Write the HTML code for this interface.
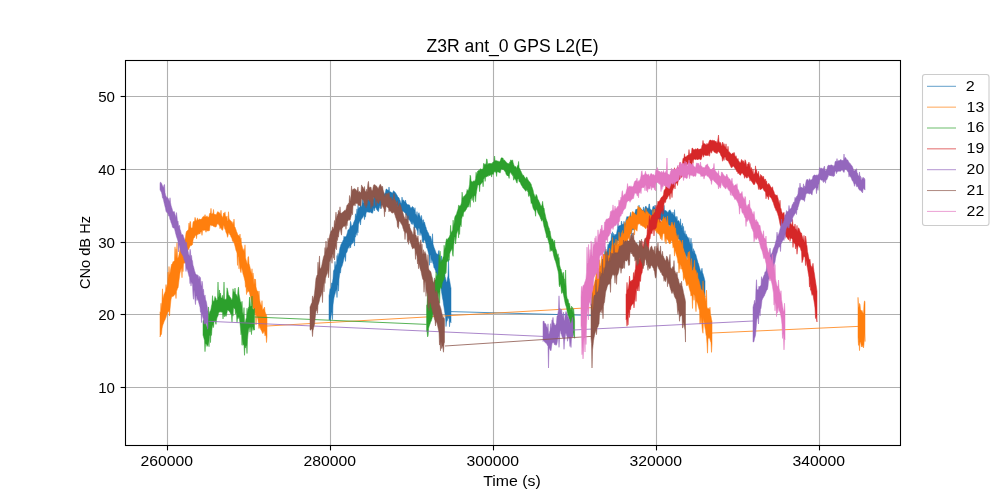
<!DOCTYPE html>
<html><head><meta charset="utf-8"><style>
html,body{margin:0;padding:0;background:#fff;}
svg{display:block;will-change:transform;}
text{font-family:"Liberation Sans",sans-serif;fill:#000;}

.t{font-size:13.9px;}
.g{stroke:#b0b0b0;stroke-width:1.1;}
.k{stroke:#000;stroke-width:1.1;}
</style></head><body>
<svg width="1000" height="500" viewBox="0 0 1000 500">
<rect width="1000" height="500" fill="#fff"/>
<defs><clipPath id="ax"><rect x="125.5" y="60.5" width="775.0" height="385.0"/></clipPath></defs>
<line x1="167.5" y1="60.5" x2="167.5" y2="445.5" class="g"/>
<line x1="330.5" y1="60.5" x2="330.5" y2="445.5" class="g"/>
<line x1="493.5" y1="60.5" x2="493.5" y2="445.5" class="g"/>
<line x1="656.5" y1="60.5" x2="656.5" y2="445.5" class="g"/>
<line x1="819.5" y1="60.5" x2="819.5" y2="445.5" class="g"/>
<line x1="125.5" y1="96.5" x2="900.5" y2="96.5" class="g"/>
<line x1="125.5" y1="169.5" x2="900.5" y2="169.5" class="g"/>
<line x1="125.5" y1="242.5" x2="900.5" y2="242.5" class="g"/>
<line x1="125.5" y1="314.5" x2="900.5" y2="314.5" class="g"/>
<line x1="125.5" y1="387.5" x2="900.5" y2="387.5" class="g"/>
<g clip-path="url(#ax)">
<path d="M329.00,295.68 L329.50,293.13 L330.00,288.79 L330.50,289.52 L331.00,287.87 L331.50,283.10 L332.00,283.56 L332.50,282.10 L333.00,278.40 L333.50,270.92 L334.00,269.95 L334.50,268.81 L335.00,261.38 L335.50,266.63 L336.00,264.92 L336.50,263.72 L337.00,255.49 L337.50,260.18 L338.00,253.36 L338.50,257.54 L339.00,254.17 L339.50,250.39 L340.00,247.66 L340.50,246.22 L341.00,244.42 L341.50,243.80 L342.00,242.50 L342.50,241.89 L343.00,240.44 L343.50,239.63 L344.00,236.20 L344.50,237.20 L345.00,236.90 L345.50,236.70 L346.00,236.60 L346.50,235.57 L347.00,234.02 L347.50,232.14 L348.00,230.12 L348.50,229.62 L349.00,229.99 L349.50,228.37 L350.00,227.10 L350.50,221.32 L351.00,223.11 L351.50,226.96 L352.00,225.48 L352.50,225.61 L353.00,224.76 L353.50,222.98 L354.00,221.71 L354.50,220.55 L355.00,219.43 L355.50,213.77 L356.00,216.73 L356.50,214.03 L357.00,208.87 L357.50,213.69 L358.00,205.29 L358.50,209.14 L359.00,207.44 L359.50,207.77 L360.00,206.73 L360.50,202.00 L361.00,206.97 L361.50,206.16 L362.00,205.09 L362.50,198.52 L363.00,203.35 L363.50,202.78 L364.00,198.05 L364.50,202.91 L365.00,202.50 L365.50,203.00 L366.00,202.37 L366.50,201.46 L367.00,200.06 L367.50,199.76 L368.00,196.14 L368.50,199.98 L369.00,199.95 L369.50,200.74 L370.00,200.15 L370.50,200.70 L371.00,200.79 L371.50,201.38 L372.00,202.03 L372.50,201.57 L373.00,199.81 L373.50,198.32 L374.00,196.33 L374.50,195.58 L375.00,196.23 L375.50,196.69 L376.00,197.26 L376.50,198.25 L377.00,198.02 L377.50,195.41 L378.00,200.20 L378.50,200.09 L379.00,197.53 L379.50,194.93 L380.00,193.03 L380.50,187.09 L381.00,193.18 L381.50,193.20 L382.00,187.92 L382.50,192.89 L383.00,192.61 L383.50,193.01 L384.00,193.13 L384.50,194.15 L385.00,193.56 L385.50,191.93 L386.00,189.22 L386.50,189.12 L387.00,189.20 L387.50,190.37 L388.00,190.02 L388.50,191.09 L389.00,186.97 L389.50,190.90 L390.00,191.78 L390.50,192.06 L391.00,192.11 L391.50,192.52 L392.00,193.18 L392.50,193.01 L393.00,192.12 L393.50,190.77 L394.00,191.11 L394.50,191.89 L395.00,192.04 L395.50,193.06 L396.00,193.56 L396.50,194.41 L397.00,195.06 L397.50,196.58 L398.00,196.75 L398.50,197.48 L399.00,197.79 L399.50,199.45 L400.00,200.30 L400.50,202.02 L401.00,203.19 L401.50,203.30 L402.00,197.06 L402.50,200.62 L403.00,199.92 L403.50,200.26 L404.00,200.43 L404.50,201.67 L405.00,201.88 L405.50,200.03 L406.00,202.53 L406.50,203.59 L407.00,203.99 L407.50,204.84 L408.00,204.66 L408.50,204.63 L409.00,204.80 L409.50,204.99 L410.00,206.61 L410.50,207.40 L411.00,208.51 L411.50,207.81 L412.00,206.82 L412.50,206.53 L413.00,207.55 L413.50,207.54 L414.00,209.23 L414.50,210.35 L415.00,207.73 L415.50,213.44 L416.00,214.57 L416.50,216.08 L417.00,211.61 L417.50,217.53 L418.00,215.16 L418.50,213.62 L419.00,212.66 L419.50,214.74 L420.00,216.05 L420.50,217.44 L421.00,219.22 L421.50,215.40 L422.00,219.40 L422.50,220.20 L423.00,224.09 L423.50,219.60 L424.00,223.26 L424.50,222.11 L425.00,224.26 L425.50,226.23 L426.00,227.18 L426.50,229.46 L427.00,230.24 L427.50,231.92 L428.00,232.24 L428.50,233.34 L429.00,234.93 L429.50,236.22 L430.00,235.97 L430.50,236.29 L431.00,238.09 L431.50,239.96 L432.00,241.94 L432.50,233.78 L433.00,243.88 L433.50,245.60 L434.00,247.46 L434.50,248.54 L435.00,249.93 L435.50,251.16 L436.00,252.72 L436.50,253.78 L437.00,254.07 L437.50,254.09 L438.00,255.22 L438.50,251.22 L439.00,250.38 L439.50,256.01 L440.00,261.17 L440.50,262.43 L441.00,256.13 L441.50,255.99 L442.00,268.03 L442.50,269.12 L443.00,270.88 L443.50,273.03 L444.00,273.81 L444.50,269.81 L445.00,276.33 L445.50,278.01 L446.00,280.24 L446.50,282.36 L447.00,281.76 L447.50,278.07 L448.00,276.05 L448.50,258.83 L449.00,277.67 L449.50,279.96 L450.00,282.73 L450.50,285.96 L451.00,288.15 L451.00,322.79 L450.50,321.89 L450.00,320.95 L449.50,326.76 L449.00,316.70 L448.50,318.55 L448.00,316.39 L447.50,319.68 L447.00,321.42 L446.50,321.87 L446.00,326.58 L445.50,316.23 L445.00,313.83 L444.50,310.74 L444.00,307.09 L443.50,304.01 L443.00,300.27 L442.50,298.03 L442.00,294.82 L441.50,291.73 L441.00,288.17 L440.50,286.47 L440.00,283.85 L439.50,282.74 L439.00,280.33 L438.50,278.30 L438.00,276.39 L437.50,282.88 L437.00,273.52 L436.50,273.11 L436.00,272.75 L435.50,270.58 L435.00,269.41 L434.50,267.71 L434.00,267.96 L433.50,264.81 L433.00,263.47 L432.50,261.78 L432.00,260.22 L431.50,258.48 L431.00,263.03 L430.50,255.34 L430.00,255.28 L429.50,265.29 L429.00,254.90 L428.50,253.40 L428.00,251.19 L427.50,249.29 L427.00,247.88 L426.50,247.81 L426.00,244.15 L425.50,242.40 L425.00,240.83 L424.50,240.14 L424.00,239.62 L423.50,242.85 L423.00,239.78 L422.50,241.94 L422.00,236.39 L421.50,234.41 L421.00,233.19 L420.50,231.96 L420.00,235.52 L419.50,229.61 L419.00,228.31 L418.50,228.29 L418.00,235.12 L417.50,231.36 L417.00,230.00 L416.50,228.68 L416.00,228.31 L415.50,227.36 L415.00,227.39 L414.50,230.39 L414.00,225.34 L413.50,223.69 L413.00,222.29 L412.50,224.44 L412.00,221.26 L411.50,224.23 L411.00,222.63 L410.50,221.80 L410.00,221.04 L409.50,219.77 L409.00,219.94 L408.50,219.28 L408.00,217.91 L407.50,220.76 L407.00,216.57 L406.50,215.21 L406.00,214.69 L405.50,213.38 L405.00,213.02 L404.50,212.51 L404.00,211.72 L403.50,211.25 L403.00,211.65 L402.50,210.73 L402.00,211.80 L401.50,212.88 L401.00,214.00 L400.50,214.26 L400.00,211.42 L399.50,210.61 L399.00,209.16 L398.50,207.67 L398.00,206.97 L397.50,205.77 L397.00,205.24 L396.50,202.93 L396.00,202.14 L395.50,200.97 L395.00,200.90 L394.50,200.04 L394.00,198.97 L393.50,198.80 L393.00,200.52 L392.50,201.96 L392.00,201.31 L391.50,200.63 L391.00,201.18 L390.50,200.58 L390.00,200.48 L389.50,200.39 L389.00,199.60 L388.50,199.38 L388.00,199.43 L387.50,199.33 L387.00,199.36 L386.50,199.94 L386.00,200.03 L385.50,200.85 L385.00,202.85 L384.50,203.83 L384.00,206.44 L383.50,204.01 L383.00,204.49 L382.50,204.73 L382.00,204.97 L381.50,205.28 L381.00,205.16 L380.50,208.79 L380.00,205.26 L379.50,207.40 L379.00,208.71 L378.50,211.41 L378.00,211.39 L377.50,210.70 L377.00,209.83 L376.50,209.38 L376.00,207.73 L375.50,207.45 L375.00,207.78 L374.50,210.93 L374.00,207.86 L373.50,209.30 L373.00,211.51 L372.50,213.28 L372.00,213.09 L371.50,212.85 L371.00,212.93 L370.50,211.73 L370.00,212.09 L369.50,212.17 L369.00,212.52 L368.50,211.93 L368.00,212.20 L367.50,212.10 L367.00,211.50 L366.50,212.25 L366.00,213.61 L365.50,217.15 L365.00,215.21 L364.50,219.63 L364.00,215.56 L363.50,215.73 L363.00,216.96 L362.50,217.74 L362.00,218.44 L361.50,219.07 L361.00,219.95 L360.50,225.05 L360.00,220.92 L359.50,221.44 L359.00,223.00 L358.50,224.39 L358.00,232.85 L357.50,229.51 L357.00,235.41 L356.50,232.62 L356.00,233.56 L355.50,237.18 L355.00,236.27 L354.50,246.08 L354.00,240.01 L353.50,241.81 L353.00,242.95 L352.50,243.17 L352.00,243.15 L351.50,244.15 L351.00,245.21 L350.50,247.96 L350.00,246.22 L349.50,245.86 L349.00,248.42 L348.50,246.63 L348.00,248.15 L347.50,250.08 L347.00,251.98 L346.50,252.86 L346.00,253.01 L345.50,261.42 L345.00,257.27 L344.50,256.42 L344.00,258.36 L343.50,260.52 L343.00,262.68 L342.50,264.57 L342.00,266.15 L341.50,267.02 L341.00,268.45 L340.50,273.09 L340.00,272.37 L339.50,275.42 L339.00,279.13 L338.50,291.13 L338.00,284.58 L337.50,286.01 L337.00,297.53 L336.50,288.94 L336.00,290.61 L335.50,292.09 L335.00,294.07 L334.50,295.61 L334.00,297.67 L333.50,301.03 L333.00,304.93 L332.50,319.58 L332.00,311.67 L331.50,313.81 L331.00,316.49 L330.50,320.42 L330.00,319.01 L329.50,320.02 L329.00,319.93Z" fill="#1f77b4" stroke="#1f77b4" stroke-width="0.5" stroke-linejoin="round"/>
<path d="M597.00,290.03 L597.50,287.49 L598.00,283.99 L598.50,281.08 L599.00,277.61 L599.50,276.12 L600.00,273.64 L600.50,265.87 L601.00,269.66 L601.50,267.48 L602.00,264.80 L602.50,261.46 L603.00,258.79 L603.50,256.54 L604.00,254.79 L604.50,253.89 L605.00,246.65 L605.50,252.51 L606.00,252.30 L606.50,252.85 L607.00,251.34 L607.50,248.96 L608.00,244.15 L608.50,245.99 L609.00,243.61 L609.50,242.21 L610.00,241.38 L610.50,240.83 L611.00,240.87 L611.50,233.41 L612.00,238.77 L612.50,231.80 L613.00,236.53 L613.50,233.38 L614.00,235.88 L614.50,235.60 L615.00,234.04 L615.50,235.13 L616.00,234.56 L616.50,233.63 L617.00,231.08 L617.50,228.61 L618.00,223.32 L618.50,227.19 L619.00,226.08 L619.50,225.76 L620.00,225.51 L620.50,225.00 L621.00,225.51 L621.50,221.06 L622.00,223.62 L622.50,224.51 L623.00,224.26 L623.50,224.28 L624.00,221.22 L624.50,223.97 L625.00,224.06 L625.50,222.57 L626.00,219.95 L626.50,218.05 L627.00,216.49 L627.50,217.11 L628.00,216.55 L628.50,216.83 L629.00,217.57 L629.50,217.76 L630.00,217.12 L630.50,212.37 L631.00,216.68 L631.50,217.10 L632.00,216.95 L632.50,216.75 L633.00,216.45 L633.50,216.88 L634.00,216.62 L634.50,213.18 L635.00,212.61 L635.50,210.32 L636.00,209.06 L636.50,209.40 L637.00,209.18 L637.50,208.80 L638.00,209.16 L638.50,208.63 L639.00,205.14 L639.50,208.17 L640.00,208.31 L640.50,208.36 L641.00,208.90 L641.50,209.44 L642.00,209.68 L642.50,210.55 L643.00,209.81 L643.50,206.87 L644.00,211.18 L644.50,209.98 L645.00,207.61 L645.50,206.52 L646.00,205.96 L646.50,207.67 L647.00,207.47 L647.50,208.40 L648.00,208.15 L648.50,208.23 L649.00,204.01 L649.50,204.02 L650.00,209.08 L650.50,209.14 L651.00,209.73 L651.50,210.32 L652.00,210.22 L652.50,208.38 L653.00,206.58 L653.50,205.92 L654.00,207.18 L654.50,208.19 L655.00,205.08 L655.50,209.22 L656.00,209.11 L656.50,209.76 L657.00,207.09 L657.50,211.88 L658.00,212.26 L658.50,212.08 L659.00,208.95 L659.50,203.90 L660.00,208.01 L660.50,207.51 L661.00,208.76 L661.50,209.30 L662.00,209.64 L662.50,208.73 L663.00,208.62 L663.50,209.61 L664.00,205.30 L664.50,210.62 L665.00,210.18 L665.50,210.60 L666.00,210.73 L666.50,210.95 L667.00,211.94 L667.50,212.18 L668.00,212.24 L668.50,211.91 L669.00,210.26 L669.50,210.41 L670.00,209.70 L670.50,211.36 L671.00,211.51 L671.50,212.87 L672.00,213.63 L672.50,214.03 L673.00,212.07 L673.50,215.28 L674.00,215.08 L674.50,209.65 L675.00,216.94 L675.50,217.84 L676.00,216.20 L676.50,219.85 L677.00,216.54 L677.50,221.31 L678.00,221.06 L678.50,220.47 L679.00,221.08 L679.50,222.78 L680.00,224.05 L680.50,218.81 L681.00,226.55 L681.50,225.42 L682.00,228.62 L682.50,223.37 L683.00,231.45 L683.50,226.39 L684.00,233.16 L684.50,233.82 L685.00,230.70 L685.50,236.20 L686.00,233.84 L686.50,234.91 L687.00,236.25 L687.50,237.06 L688.00,237.62 L688.50,240.04 L689.00,237.55 L689.50,242.06 L690.00,243.55 L690.50,244.44 L691.00,238.15 L691.50,247.85 L692.00,243.16 L692.50,250.33 L693.00,252.04 L693.50,248.68 L694.00,253.48 L694.50,250.70 L695.00,253.40 L695.50,253.89 L696.00,255.20 L696.50,257.36 L697.00,259.12 L697.50,260.86 L698.00,262.80 L698.50,263.81 L699.00,265.87 L699.50,267.48 L700.00,269.33 L700.50,270.64 L701.00,271.99 L701.50,270.37 L702.00,268.20 L702.50,272.50 L703.00,273.68 L703.50,275.51 L704.00,277.20 L704.50,279.32 L705.00,281.26 L705.00,297.05 L704.50,295.51 L704.00,294.35 L703.50,292.88 L703.00,292.03 L702.50,290.62 L702.00,289.80 L701.50,289.42 L701.00,291.68 L700.50,291.14 L700.00,289.15 L699.50,288.18 L699.00,285.94 L698.50,284.56 L698.00,285.15 L697.50,281.78 L697.00,279.80 L696.50,277.50 L696.00,276.52 L695.50,275.50 L695.00,274.55 L694.50,275.38 L694.00,274.10 L693.50,274.46 L693.00,272.87 L692.50,270.69 L692.00,270.05 L691.50,268.73 L691.00,267.47 L690.50,266.40 L690.00,264.53 L689.50,263.90 L689.00,261.44 L688.50,259.73 L688.00,258.38 L687.50,257.41 L687.00,255.72 L686.50,256.02 L686.00,260.95 L685.50,255.50 L685.00,254.41 L684.50,253.06 L684.00,251.87 L683.50,249.82 L683.00,248.94 L682.50,248.65 L682.00,254.39 L681.50,247.62 L681.00,244.07 L680.50,250.02 L680.00,241.44 L679.50,240.21 L679.00,239.12 L678.50,238.93 L678.00,239.25 L677.50,239.51 L677.00,238.06 L676.50,236.30 L676.00,235.72 L675.50,234.13 L675.00,232.81 L674.50,231.21 L674.00,230.02 L673.50,230.47 L673.00,229.45 L672.50,228.21 L672.00,227.18 L671.50,226.57 L671.00,226.27 L670.50,225.53 L670.00,228.23 L669.50,224.64 L669.00,225.39 L668.50,224.90 L668.00,225.68 L667.50,224.87 L667.00,224.89 L666.50,223.53 L666.00,222.97 L665.50,222.33 L665.00,225.88 L664.50,221.77 L664.00,222.46 L663.50,222.54 L663.00,222.05 L662.50,221.16 L662.00,221.16 L661.50,220.52 L661.00,219.65 L660.50,218.82 L660.00,219.07 L659.50,220.04 L659.00,221.62 L658.50,224.21 L658.00,223.36 L657.50,222.56 L657.00,222.07 L656.50,225.92 L656.00,220.95 L655.50,219.91 L655.00,219.41 L654.50,218.80 L654.00,218.07 L653.50,217.54 L653.00,218.06 L652.50,219.57 L652.00,221.53 L651.50,221.38 L651.00,220.88 L650.50,223.04 L650.00,223.76 L649.50,219.20 L649.00,219.80 L648.50,219.76 L648.00,219.74 L647.50,219.01 L647.00,217.81 L646.50,217.46 L646.00,218.03 L645.50,217.31 L645.00,218.52 L644.50,220.03 L644.00,221.69 L643.50,220.97 L643.00,220.25 L642.50,220.88 L642.00,220.05 L641.50,220.02 L641.00,219.35 L640.50,218.91 L640.00,219.22 L639.50,219.91 L639.00,220.09 L638.50,220.10 L638.00,221.01 L637.50,220.96 L637.00,221.86 L636.50,221.39 L636.00,222.82 L635.50,222.99 L635.00,226.17 L634.50,229.09 L634.00,229.16 L633.50,229.95 L633.00,229.49 L632.50,229.77 L632.00,230.25 L631.50,236.25 L631.00,231.14 L630.50,231.48 L630.00,230.57 L629.50,230.36 L629.00,229.81 L628.50,230.17 L628.00,229.59 L627.50,228.79 L627.00,231.37 L626.50,229.37 L626.00,232.06 L625.50,235.28 L625.00,236.70 L624.50,236.11 L624.00,236.84 L623.50,236.62 L623.00,237.20 L622.50,238.94 L622.00,238.08 L621.50,238.56 L621.00,238.76 L620.50,239.26 L620.00,239.53 L619.50,239.96 L619.00,240.68 L618.50,241.06 L618.00,241.06 L617.50,241.24 L617.00,244.20 L616.50,247.36 L616.00,247.93 L615.50,249.01 L615.00,254.12 L614.50,249.43 L614.00,250.41 L613.50,252.18 L613.00,253.34 L612.50,254.59 L612.00,255.42 L611.50,255.23 L611.00,260.46 L610.50,257.31 L610.00,258.34 L609.50,259.35 L609.00,261.22 L608.50,262.54 L608.00,266.33 L607.50,267.91 L607.00,267.64 L606.50,268.27 L606.00,268.00 L605.50,268.39 L605.00,269.08 L604.50,270.87 L604.00,271.33 L603.50,273.19 L603.00,279.58 L602.50,279.31 L602.00,285.70 L601.50,288.49 L601.00,288.30 L600.50,291.51 L600.00,294.47 L599.50,297.08 L599.00,299.49 L598.50,303.17 L598.00,307.15 L597.50,322.51 L597.00,315.14Z" fill="#1f77b4" stroke="#1f77b4" stroke-width="0.5" stroke-linejoin="round"/>
<path d="M451.0,311.6 L597.0,315.6" stroke="#1f77b4" stroke-width="0.8" fill="none"/>
<path d="M160.00,311.84 L160.50,312.73 L161.00,303.28 L161.50,309.34 L162.00,301.25 L162.50,288.84 L163.00,298.80 L163.50,296.80 L164.00,294.56 L164.50,293.40 L165.00,292.19 L165.50,290.92 L166.00,284.56 L166.50,288.40 L167.00,286.47 L167.50,283.83 L168.00,272.02 L168.50,279.45 L169.00,266.49 L169.50,275.29 L170.00,273.05 L170.50,270.07 L171.00,267.00 L171.50,264.38 L172.00,263.83 L172.50,263.54 L173.00,261.56 L173.50,261.69 L174.00,261.26 L174.50,260.43 L175.00,246.87 L175.50,259.80 L176.00,248.80 L176.50,258.76 L177.00,242.85 L177.50,258.58 L178.00,257.71 L178.50,256.69 L179.00,254.62 L179.50,251.78 L180.00,249.12 L180.50,246.12 L181.00,238.00 L181.50,237.76 L182.00,237.98 L182.50,244.23 L183.00,242.12 L183.50,242.38 L184.00,241.65 L184.50,240.75 L185.00,239.38 L185.50,236.89 L186.00,233.08 L186.50,231.46 L187.00,230.86 L187.50,230.83 L188.00,229.92 L188.50,229.30 L189.00,223.02 L189.50,228.31 L190.00,221.40 L190.50,221.81 L191.00,228.17 L191.50,228.00 L192.00,228.01 L192.50,227.23 L193.00,222.58 L193.50,221.51 L194.00,221.02 L194.50,221.55 L195.00,217.37 L195.50,218.84 L196.00,220.68 L196.50,220.64 L197.00,219.45 L197.50,217.88 L198.00,219.87 L198.50,220.03 L199.00,219.38 L199.50,219.17 L200.00,218.86 L200.50,219.60 L201.00,219.27 L201.50,218.97 L202.00,218.80 L202.50,217.17 L203.00,216.89 L203.50,216.30 L204.00,216.46 L204.50,216.80 L205.00,214.61 L205.50,216.62 L206.00,217.25 L206.50,216.59 L207.00,215.81 L207.50,216.86 L208.00,217.60 L208.50,216.93 L209.00,216.84 L209.50,213.83 L210.00,213.11 L210.50,212.89 L211.00,208.32 L211.50,213.93 L212.00,213.71 L212.50,213.38 L213.00,213.84 L213.50,209.44 L214.00,214.03 L214.50,214.44 L215.00,214.01 L215.50,214.79 L216.00,214.82 L216.50,214.29 L217.00,213.02 L217.50,211.91 L218.00,211.54 L218.50,212.40 L219.00,212.26 L219.50,212.95 L220.00,213.60 L220.50,214.38 L221.00,210.24 L221.50,215.28 L222.00,216.00 L222.50,217.51 L223.00,216.67 L223.50,213.30 L224.00,213.07 L224.50,214.02 L225.00,211.88 L225.50,216.53 L226.00,216.46 L226.50,217.65 L227.00,215.94 L227.50,221.33 L228.00,220.56 L228.50,211.76 L229.00,218.13 L229.50,219.38 L230.00,219.90 L230.50,220.66 L231.00,220.96 L231.50,221.62 L232.00,222.86 L232.50,224.46 L233.00,221.66 L233.50,225.18 L234.00,219.02 L234.50,226.45 L235.00,226.91 L235.50,228.60 L236.00,229.67 L236.50,231.53 L237.00,232.53 L237.50,234.06 L238.00,235.09 L238.50,235.59 L239.00,235.58 L239.50,237.29 L240.00,233.97 L240.50,240.18 L241.00,237.89 L241.50,244.36 L242.00,245.78 L242.50,247.96 L243.00,249.79 L243.50,251.20 L244.00,248.66 L244.50,253.09 L245.00,244.80 L245.50,257.70 L246.00,259.69 L246.50,261.29 L247.00,263.30 L247.50,264.76 L248.00,256.87 L248.50,256.63 L249.00,263.62 L249.50,265.19 L250.00,267.30 L250.50,269.61 L251.00,272.11 L251.50,274.41 L252.00,268.75 L252.50,278.37 L253.00,272.93 L253.50,277.32 L254.00,285.20 L254.50,278.90 L255.00,284.87 L255.50,279.17 L256.00,286.80 L256.50,289.08 L257.00,290.47 L257.50,291.59 L258.00,291.20 L258.50,296.04 L259.00,290.96 L259.50,298.71 L260.00,301.72 L260.50,303.81 L261.00,305.10 L261.50,306.52 L262.00,300.66 L262.50,309.95 L263.00,309.40 L263.50,308.77 L264.00,308.25 L264.50,307.01 L265.00,311.37 L265.50,313.17 L266.00,313.95 L266.50,315.19 L267.00,317.72 L267.00,336.75 L266.50,342.56 L266.00,334.74 L265.50,334.80 L265.00,336.02 L264.50,332.09 L264.00,330.88 L263.50,332.44 L263.00,333.61 L262.50,333.31 L262.00,331.86 L261.50,330.63 L261.00,329.96 L260.50,328.78 L260.00,327.44 L259.50,324.95 L259.00,328.60 L258.50,324.16 L258.00,320.04 L257.50,317.87 L257.00,316.19 L256.50,314.40 L256.00,324.90 L255.50,311.93 L255.00,314.87 L254.50,314.10 L254.00,312.45 L253.50,309.22 L253.00,307.78 L252.50,306.10 L252.00,303.74 L251.50,301.33 L251.00,298.99 L250.50,296.75 L250.00,295.44 L249.50,293.12 L249.00,291.46 L248.50,291.20 L248.00,291.60 L247.50,292.38 L247.00,288.60 L246.50,294.54 L246.00,285.06 L245.50,287.34 L245.00,281.34 L244.50,279.29 L244.00,277.23 L243.50,275.48 L243.00,273.97 L242.50,271.28 L242.00,269.15 L241.50,267.04 L241.00,272.63 L240.50,271.04 L240.00,268.19 L239.50,259.83 L239.00,268.85 L238.50,257.14 L238.00,256.39 L237.50,265.45 L237.00,253.11 L236.50,251.47 L236.00,250.43 L235.50,248.33 L235.00,246.18 L234.50,244.37 L234.00,242.74 L233.50,242.19 L233.00,240.84 L232.50,241.22 L232.00,238.82 L231.50,237.68 L231.00,237.12 L230.50,235.32 L230.00,234.93 L229.50,234.06 L229.00,233.08 L228.50,232.75 L228.00,235.81 L227.50,237.32 L227.00,234.74 L226.50,233.06 L226.00,232.67 L225.50,230.37 L225.00,229.22 L224.50,228.27 L224.00,225.65 L223.50,225.60 L223.00,229.08 L222.50,230.20 L222.00,230.19 L221.50,228.88 L221.00,228.12 L220.50,227.14 L220.00,228.71 L219.50,225.28 L219.00,225.45 L218.50,224.01 L218.00,223.81 L217.50,224.08 L217.00,224.35 L216.50,226.06 L216.00,227.07 L215.50,226.95 L215.00,226.71 L214.50,226.93 L214.00,226.04 L213.50,226.28 L213.00,226.15 L212.50,225.47 L212.00,225.62 L211.50,225.83 L211.00,225.34 L210.50,225.03 L210.00,225.77 L209.50,230.53 L209.00,230.14 L208.50,231.03 L208.00,230.94 L207.50,231.12 L207.00,230.60 L206.50,230.61 L206.00,232.30 L205.50,230.86 L205.00,229.74 L204.50,230.32 L204.00,230.32 L203.50,230.54 L203.00,229.82 L202.50,231.00 L202.00,235.39 L201.50,231.80 L201.00,231.72 L200.50,232.29 L200.00,233.92 L199.50,233.58 L199.00,234.17 L198.50,233.59 L198.00,234.69 L197.50,234.21 L197.00,235.07 L196.50,238.70 L196.00,235.13 L195.50,235.21 L195.00,236.13 L194.50,237.42 L194.00,238.17 L193.50,238.37 L193.00,240.55 L192.50,244.49 L192.00,245.14 L191.50,245.36 L191.00,245.71 L190.50,245.59 L190.00,246.18 L189.50,247.58 L189.00,248.54 L188.50,249.52 L188.00,249.28 L187.50,250.93 L187.00,259.70 L186.50,252.20 L186.00,254.88 L185.50,257.92 L185.00,263.43 L184.50,262.35 L184.00,263.29 L183.50,263.87 L183.00,271.64 L182.50,266.15 L182.00,277.74 L181.50,268.30 L181.00,269.08 L180.50,271.29 L180.00,272.89 L179.50,276.70 L179.00,280.35 L178.50,284.78 L178.00,288.03 L177.50,288.28 L177.00,290.00 L176.50,291.28 L176.00,298.57 L175.50,293.28 L175.00,294.58 L174.50,294.48 L174.00,295.50 L173.50,296.14 L173.00,296.30 L172.50,296.72 L172.00,296.23 L171.50,297.41 L171.00,299.54 L170.50,304.15 L170.00,309.33 L169.50,316.07 L169.00,311.35 L168.50,311.50 L168.00,312.23 L167.50,312.50 L167.00,314.54 L166.50,315.59 L166.00,317.37 L165.50,318.58 L165.00,319.87 L164.50,320.68 L164.00,321.82 L163.50,323.38 L163.00,324.53 L162.50,326.25 L162.00,328.80 L161.50,334.02 L161.00,335.07 L160.50,335.42 L160.00,336.95Z" fill="#ff7f0e" stroke="#ff7f0e" stroke-width="0.5" stroke-linejoin="round"/>
<path d="M592.00,291.32 L592.50,289.69 L593.00,286.34 L593.50,286.10 L594.00,284.64 L594.50,283.00 L595.00,280.62 L595.50,278.60 L596.00,275.36 L596.50,266.80 L597.00,270.22 L597.50,269.53 L598.00,269.41 L598.50,268.96 L599.00,268.54 L599.50,259.70 L600.00,267.35 L600.50,266.99 L601.00,262.16 L601.50,256.27 L602.00,265.85 L602.50,264.73 L603.00,254.46 L603.50,254.23 L604.00,253.83 L604.50,254.86 L605.00,255.40 L605.50,255.09 L606.00,251.30 L606.50,254.87 L607.00,254.49 L607.50,254.88 L608.00,255.63 L608.50,255.75 L609.00,255.09 L609.50,248.19 L610.00,254.99 L610.50,254.21 L611.00,250.42 L611.50,247.66 L612.00,244.41 L612.50,237.55 L613.00,246.07 L613.50,245.18 L614.00,245.64 L614.50,242.82 L615.00,245.62 L615.50,244.89 L616.00,238.95 L616.50,245.05 L617.00,245.23 L617.50,240.36 L618.00,243.78 L618.50,244.07 L619.00,232.19 L619.50,238.45 L620.00,236.47 L620.50,237.64 L621.00,236.97 L621.50,232.58 L622.00,235.78 L622.50,230.47 L623.00,234.12 L623.50,233.45 L624.00,232.68 L624.50,222.43 L625.00,227.67 L625.50,224.65 L626.00,221.58 L626.50,219.60 L627.00,220.43 L627.50,219.63 L628.00,218.29 L628.50,217.83 L629.00,216.70 L629.50,216.32 L630.00,215.65 L630.50,217.26 L631.00,216.71 L631.50,216.10 L632.00,212.03 L632.50,211.72 L633.00,211.58 L633.50,212.30 L634.00,212.71 L634.50,213.34 L635.00,213.85 L635.50,214.28 L636.00,214.93 L636.50,214.96 L637.00,214.64 L637.50,209.62 L638.00,205.86 L638.50,207.82 L639.00,207.02 L639.50,208.14 L640.00,207.52 L640.50,207.85 L641.00,208.69 L641.50,210.04 L642.00,210.09 L642.50,210.73 L643.00,210.98 L643.50,210.61 L644.00,211.42 L644.50,212.24 L645.00,213.22 L645.50,213.99 L646.00,208.34 L646.50,212.26 L647.00,211.46 L647.50,211.85 L648.00,212.44 L648.50,214.01 L649.00,213.58 L649.50,214.18 L650.00,214.41 L650.50,214.97 L651.00,215.84 L651.50,215.83 L652.00,215.93 L652.50,214.48 L653.00,209.23 L653.50,214.81 L654.00,213.43 L654.50,208.96 L655.00,216.73 L655.50,216.72 L656.00,214.51 L656.50,212.37 L657.00,218.67 L657.50,219.05 L658.00,219.19 L658.50,219.08 L659.00,219.86 L659.50,220.18 L660.00,221.60 L660.50,221.58 L661.00,221.58 L661.50,221.42 L662.00,221.35 L662.50,219.46 L663.00,218.78 L663.50,216.43 L664.00,217.94 L664.50,218.28 L665.00,219.27 L665.50,216.95 L666.00,219.39 L666.50,221.43 L667.00,222.54 L667.50,215.95 L668.00,223.31 L668.50,225.33 L669.00,225.74 L669.50,226.38 L670.00,226.82 L670.50,226.32 L671.00,224.98 L671.50,222.94 L672.00,222.01 L672.50,223.62 L673.00,224.68 L673.50,225.67 L674.00,227.24 L674.50,222.44 L675.00,230.31 L675.50,227.89 L676.00,232.69 L676.50,234.94 L677.00,236.54 L677.50,238.12 L678.00,234.64 L678.50,240.59 L679.00,240.83 L679.50,240.15 L680.00,240.12 L680.50,240.78 L681.00,241.91 L681.50,243.50 L682.00,244.80 L682.50,239.98 L683.00,247.38 L683.50,249.09 L684.00,250.75 L684.50,252.73 L685.00,253.03 L685.50,255.40 L686.00,257.33 L686.50,259.21 L687.00,260.52 L687.50,257.81 L688.00,253.11 L688.50,251.89 L689.00,257.75 L689.50,251.31 L690.00,259.03 L690.50,265.37 L691.00,267.00 L691.50,258.52 L692.00,270.08 L692.50,270.89 L693.00,270.07 L693.50,267.39 L694.00,266.29 L694.50,260.27 L695.00,268.78 L695.50,270.95 L696.00,270.33 L696.50,273.09 L697.00,274.77 L697.50,272.61 L698.00,278.14 L698.50,278.98 L699.00,280.53 L699.50,282.74 L700.00,284.70 L700.50,286.62 L701.00,289.02 L701.50,290.16 L702.00,290.45 L702.50,292.57 L703.00,280.81 L703.50,289.83 L704.00,292.27 L704.50,294.11 L705.00,296.52 L705.50,298.55 L706.00,301.77 L706.50,290.11 L707.00,306.90 L707.50,308.55 L708.00,308.39 L708.50,308.13 L709.00,309.28 L709.50,309.53 L710.00,307.24 L710.50,314.51 L711.00,316.37 L711.50,319.60 L712.00,321.21 L712.00,343.85 L711.50,352.37 L711.00,342.64 L710.50,341.34 L710.00,339.40 L709.50,337.45 L709.00,338.35 L708.50,337.58 L708.00,339.42 L707.50,353.14 L707.00,343.74 L706.50,336.59 L706.00,334.79 L705.50,330.17 L705.00,327.96 L704.50,324.71 L704.00,321.53 L703.50,318.35 L703.00,333.27 L702.50,330.88 L702.00,327.05 L701.50,316.32 L701.00,323.26 L700.50,316.31 L700.00,324.12 L699.50,310.38 L699.00,309.11 L698.50,307.29 L698.00,305.32 L697.50,302.90 L697.00,302.49 L696.50,300.83 L696.00,311.67 L695.50,305.19 L695.00,295.37 L694.50,295.35 L694.00,300.33 L693.50,293.65 L693.00,295.24 L692.50,308.49 L692.00,296.23 L691.50,294.80 L691.00,296.15 L690.50,292.26 L690.00,290.96 L689.50,289.16 L689.00,287.20 L688.50,284.45 L688.00,284.03 L687.50,285.44 L687.00,285.59 L686.50,285.67 L686.00,282.87 L685.50,280.86 L685.00,279.12 L684.50,278.23 L684.00,277.05 L683.50,280.49 L683.00,272.88 L682.50,270.67 L682.00,268.83 L681.50,268.96 L681.00,265.51 L680.50,264.01 L680.00,269.18 L679.50,263.04 L679.00,273.03 L678.50,262.15 L678.00,263.24 L677.50,259.08 L677.00,257.09 L676.50,255.62 L676.00,253.79 L675.50,251.71 L675.00,250.65 L674.50,256.11 L674.00,247.52 L673.50,246.43 L673.00,248.12 L672.50,242.79 L672.00,241.24 L671.50,239.94 L671.00,241.50 L670.50,243.30 L670.00,243.91 L669.50,243.75 L669.00,242.93 L668.50,241.73 L668.00,240.44 L667.50,239.68 L667.00,239.16 L666.50,238.40 L666.00,244.04 L665.50,237.15 L665.00,241.81 L664.50,234.27 L664.00,233.45 L663.50,233.56 L663.00,233.62 L662.50,236.19 L662.00,240.42 L661.50,238.31 L661.00,236.20 L660.50,238.87 L660.00,235.71 L659.50,235.22 L659.00,234.25 L658.50,233.61 L658.00,233.88 L657.50,232.76 L657.00,231.83 L656.50,232.67 L656.00,230.24 L655.50,230.79 L655.00,230.37 L654.50,229.46 L654.00,228.24 L653.50,228.12 L653.00,230.55 L652.50,229.31 L652.00,231.18 L651.50,231.39 L651.00,230.80 L650.50,230.87 L650.00,230.22 L649.50,231.33 L649.00,228.09 L648.50,230.56 L648.00,227.11 L647.50,227.98 L647.00,226.00 L646.50,227.87 L646.00,228.64 L645.50,228.67 L645.00,228.04 L644.50,227.45 L644.00,226.63 L643.50,226.80 L643.00,226.29 L642.50,226.36 L642.00,225.38 L641.50,225.14 L641.00,225.65 L640.50,224.97 L640.00,223.48 L639.50,224.03 L639.00,223.81 L638.50,224.15 L638.00,223.70 L637.50,226.81 L637.00,231.18 L636.50,230.34 L636.00,229.82 L635.50,229.25 L635.00,229.53 L634.50,235.09 L634.00,228.77 L633.50,228.98 L633.00,228.42 L632.50,228.52 L632.00,229.33 L631.50,232.12 L631.00,233.90 L630.50,234.21 L630.00,234.70 L629.50,244.69 L629.00,237.65 L628.50,238.01 L628.00,239.16 L627.50,240.17 L627.00,241.02 L626.50,241.93 L626.00,242.64 L625.50,244.49 L625.00,246.63 L624.50,249.82 L624.00,253.36 L623.50,251.91 L623.00,252.73 L622.50,253.56 L622.00,255.82 L621.50,254.75 L621.00,255.02 L620.50,254.09 L620.00,254.72 L619.50,254.73 L619.00,255.66 L618.50,261.60 L618.00,262.12 L617.50,268.66 L617.00,261.75 L616.50,261.26 L616.00,261.49 L615.50,262.09 L615.00,266.77 L614.50,263.10 L614.00,263.19 L613.50,262.97 L613.00,263.00 L612.50,263.91 L612.00,264.21 L611.50,267.59 L611.00,269.56 L610.50,280.72 L610.00,277.11 L609.50,274.54 L609.00,276.01 L608.50,274.95 L608.00,274.73 L607.50,275.59 L607.00,275.94 L606.50,276.09 L606.00,276.89 L605.50,277.53 L605.00,277.45 L604.50,278.65 L604.00,279.91 L603.50,278.07 L603.00,282.82 L602.50,289.36 L602.00,303.09 L601.50,291.66 L601.00,292.45 L600.50,292.50 L600.00,292.42 L599.50,292.98 L599.00,293.17 L598.50,293.87 L598.00,293.62 L597.50,295.85 L597.00,295.67 L596.50,297.49 L596.00,306.82 L595.50,304.10 L595.00,307.43 L594.50,309.17 L594.00,311.56 L593.50,313.49 L593.00,314.55 L592.50,316.35 L592.00,317.14Z" fill="#ff7f0e" stroke="#ff7f0e" stroke-width="0.5" stroke-linejoin="round"/>
<path d="M858.00,297.36 L858.50,307.13 L859.00,306.93 L859.50,303.45 L860.00,304.24 L860.50,309.69 L861.00,309.89 L861.50,311.51 L862.00,310.39 L862.50,312.12 L863.00,312.83 L863.50,314.20 L864.00,304.16 L864.50,300.83 L865.00,301.97 L865.00,341.56 L864.50,333.12 L864.00,344.01 L863.50,347.95 L863.00,346.63 L862.50,346.48 L862.00,344.40 L861.50,347.02 L861.00,344.52 L860.50,342.20 L860.00,341.97 L859.50,350.69 L859.00,340.88 L858.50,345.43 L858.00,337.18Z" fill="#ff7f0e" stroke="#ff7f0e" stroke-width="0.5" stroke-linejoin="round"/>
<path d="M267.0,326.0 L592.0,307.6" stroke="#ff7f0e" stroke-width="0.8" fill="none"/>
<path d="M712.0,333.0 L858.0,326.4" stroke="#ff7f0e" stroke-width="0.8" fill="none"/>
<path d="M203.00,320.65 L203.50,320.29 L204.00,320.12 L204.50,318.71 L205.00,312.71 L205.50,315.64 L206.00,322.22 L206.50,326.65 L207.00,326.26 L207.50,324.53 L208.00,321.31 L208.50,306.94 L209.00,314.60 L209.50,312.86 L210.00,311.14 L210.50,310.92 L211.00,308.94 L211.50,305.91 L212.00,304.00 L212.50,295.66 L213.00,301.76 L213.50,300.80 L214.00,301.42 L214.50,299.35 L215.00,296.41 L215.50,298.33 L216.00,298.12 L216.50,300.43 L217.00,300.00 L217.50,299.42 L218.00,282.00 L218.50,296.77 L219.00,296.80 L219.50,289.98 L220.00,295.80 L220.50,292.99 L221.00,297.65 L221.50,297.89 L222.00,297.47 L222.50,295.31 L223.00,298.82 L223.50,298.47 L224.00,282.00 L224.50,298.85 L225.00,299.74 L225.50,299.32 L226.00,299.83 L226.50,297.63 L227.00,287.84 L227.50,289.46 L228.00,291.67 L228.50,295.47 L229.00,295.09 L229.50,296.48 L230.00,296.64 L230.50,297.87 L231.00,298.41 L231.50,299.88 L232.00,300.03 L232.50,297.36 L233.00,288.78 L233.50,291.96 L234.00,291.53 L234.50,293.12 L235.00,288.00 L235.50,293.38 L236.00,294.13 L236.50,294.72 L237.00,296.03 L237.50,297.54 L238.00,289.44 L238.50,287.12 L239.00,294.08 L239.50,296.82 L240.00,299.34 L240.50,302.37 L241.00,301.89 L241.50,306.93 L242.00,301.26 L242.50,311.39 L243.00,314.04 L243.50,315.16 L244.00,307.58 L244.50,321.23 L245.00,322.75 L245.50,321.43 L246.00,318.73 L246.50,318.04 L247.00,308.18 L247.50,313.75 L248.00,309.48 L248.50,307.16 L249.00,306.51 L249.50,296.96 L250.00,298.87 L250.50,306.98 L251.00,305.94 L251.50,305.89 L252.00,296.00 L252.50,308.44 L253.00,308.79 L253.50,309.39 L254.00,309.85 L254.50,308.40 L254.50,330.04 L254.00,329.91 L253.50,328.18 L253.00,330.60 L252.50,327.34 L252.00,326.87 L251.50,334.63 L251.00,327.61 L250.50,327.27 L250.00,332.13 L249.50,327.17 L249.00,328.08 L248.50,330.27 L248.00,334.07 L247.50,339.68 L247.00,353.56 L246.50,344.98 L246.00,346.30 L245.50,348.06 L245.00,345.22 L244.50,355.34 L244.00,345.37 L243.50,344.36 L243.00,345.43 L242.50,338.32 L242.00,345.19 L241.50,331.71 L241.00,334.87 L240.50,328.26 L240.00,323.46 L239.50,319.50 L239.00,317.20 L238.50,317.46 L238.00,318.80 L237.50,317.35 L237.00,322.47 L236.50,314.29 L236.00,312.30 L235.50,314.11 L235.00,309.11 L234.50,308.53 L234.00,308.42 L233.50,307.49 L233.00,316.18 L232.50,312.63 L232.00,321.99 L231.50,314.99 L231.00,313.66 L230.50,313.66 L230.00,312.21 L229.50,311.79 L229.00,310.89 L228.50,310.67 L228.00,310.02 L227.50,310.08 L227.00,312.60 L226.50,314.93 L226.00,316.51 L225.50,315.44 L225.00,313.99 L224.50,316.82 L224.00,314.45 L223.50,314.55 L223.00,319.03 L222.50,312.20 L222.00,312.26 L221.50,312.28 L221.00,311.59 L220.50,311.98 L220.00,311.87 L219.50,312.03 L219.00,312.27 L218.50,313.19 L218.00,315.77 L217.50,316.84 L217.00,317.73 L216.50,320.31 L216.00,324.40 L215.50,322.71 L215.00,320.30 L214.50,321.42 L214.00,322.08 L213.50,327.55 L213.00,324.70 L212.50,326.33 L212.00,328.65 L211.50,335.48 L211.00,332.36 L210.50,342.64 L210.00,334.95 L209.50,336.56 L209.00,346.78 L208.50,340.82 L208.00,344.65 L207.50,345.86 L207.00,346.50 L206.50,344.06 L206.00,344.20 L205.50,343.16 L205.00,351.70 L204.50,340.40 L204.00,338.47 L203.50,336.73 L203.00,335.07Z" fill="#2ca02c" stroke="#2ca02c" stroke-width="0.5" stroke-linejoin="round"/>
<path d="M426.60,305.34 L427.10,304.22 L427.60,290.35 L428.10,301.39 L428.60,300.25 L429.10,299.48 L429.60,298.70 L430.10,297.23 L430.60,296.77 L431.10,295.07 L431.60,293.72 L432.10,292.19 L432.60,290.00 L433.10,286.26 L433.60,282.18 L434.10,281.43 L434.60,280.49 L435.10,279.76 L435.60,279.33 L436.10,271.91 L436.60,277.03 L437.10,275.87 L437.60,274.69 L438.10,274.12 L438.60,267.81 L439.10,254.87 L439.60,263.91 L440.10,251.12 L440.60,262.73 L441.10,261.87 L441.60,260.18 L442.10,259.67 L442.60,258.92 L443.10,256.68 L443.60,256.18 L444.10,245.25 L444.60,250.52 L445.10,247.68 L445.60,244.09 L446.10,240.67 L446.60,238.73 L447.10,240.15 L447.60,238.89 L448.10,238.31 L448.60,237.90 L449.10,237.37 L449.60,236.09 L450.10,234.72 L450.60,225.32 L451.10,232.38 L451.60,232.11 L452.10,231.26 L452.60,229.95 L453.10,220.18 L453.60,226.92 L454.10,223.33 L454.60,218.13 L455.10,216.29 L455.60,215.60 L456.10,214.73 L456.60,213.66 L457.10,211.84 L457.60,210.38 L458.10,208.82 L458.60,205.28 L459.10,205.39 L459.60,206.48 L460.10,205.67 L460.60,205.13 L461.10,204.19 L461.60,202.02 L462.10,192.13 L462.60,198.11 L463.10,197.75 L463.60,196.61 L464.10,196.32 L464.60,195.80 L465.10,195.13 L465.60,194.44 L466.10,193.96 L466.60,192.42 L467.10,189.43 L467.60,190.64 L468.10,190.40 L468.60,189.54 L469.10,187.18 L469.60,184.27 L470.10,175.20 L470.60,176.10 L471.10,181.31 L471.60,181.15 L472.10,182.13 L472.60,181.81 L473.10,181.45 L473.60,180.85 L474.10,181.27 L474.60,180.94 L475.10,180.38 L475.60,178.73 L476.10,172.27 L476.60,176.50 L477.10,173.68 L477.60,171.19 L478.10,170.80 L478.60,170.41 L479.10,170.67 L479.60,169.63 L480.10,169.62 L480.60,168.65 L481.10,169.32 L481.60,169.35 L482.10,169.22 L482.60,168.93 L483.10,168.49 L483.60,163.22 L484.10,165.44 L484.60,163.77 L485.10,164.45 L485.60,164.01 L486.10,164.38 L486.60,158.84 L487.10,159.55 L487.60,164.44 L488.10,164.35 L488.60,163.41 L489.10,163.25 L489.60,163.61 L490.10,164.06 L490.60,163.17 L491.10,163.85 L491.60,163.40 L492.10,163.50 L492.60,162.59 L493.10,161.97 L493.60,161.88 L494.10,161.24 L494.60,156.03 L495.10,160.78 L495.60,160.65 L496.10,160.26 L496.60,160.95 L497.10,160.82 L497.60,161.13 L498.10,160.97 L498.60,161.42 L499.10,161.87 L499.60,161.53 L500.10,161.07 L500.60,159.74 L501.10,158.12 L501.60,157.80 L502.10,157.94 L502.60,157.96 L503.10,158.19 L503.60,160.18 L504.10,159.99 L504.60,160.23 L505.10,160.70 L505.60,161.39 L506.10,161.82 L506.60,162.69 L507.10,163.32 L507.60,163.21 L508.10,163.20 L508.60,163.65 L509.10,163.90 L509.60,162.25 L510.10,161.88 L510.60,159.93 L511.10,160.24 L511.60,160.15 L512.10,161.77 L512.60,159.85 L513.10,162.60 L513.60,164.18 L514.10,165.45 L514.60,166.42 L515.10,166.56 L515.60,166.45 L516.10,167.45 L516.60,168.42 L517.10,166.73 L517.60,165.49 L518.10,165.15 L518.60,161.43 L519.10,167.64 L519.60,168.36 L520.10,169.42 L520.60,170.73 L521.10,171.54 L521.60,173.08 L522.10,173.78 L522.60,175.20 L523.10,175.21 L523.60,175.24 L524.10,176.62 L524.60,177.12 L525.10,177.90 L525.60,178.73 L526.10,178.70 L526.60,176.85 L527.10,177.59 L527.60,179.13 L528.10,179.83 L528.60,180.78 L529.10,181.51 L529.60,181.84 L530.10,182.51 L530.60,183.38 L531.10,183.94 L531.60,186.17 L532.10,187.33 L532.60,188.77 L533.10,190.35 L533.60,192.91 L534.10,194.19 L534.60,195.87 L535.10,196.88 L535.60,196.55 L536.10,194.41 L536.60,195.02 L537.10,196.19 L537.60,198.47 L538.10,199.75 L538.60,200.15 L539.10,201.68 L539.60,202.49 L540.10,203.89 L540.60,205.17 L541.10,206.23 L541.60,205.94 L542.10,204.37 L542.60,201.31 L543.10,205.35 L543.60,207.70 L544.10,208.27 L544.60,211.88 L545.10,214.12 L545.60,216.40 L546.10,218.68 L546.60,220.27 L547.10,221.49 L547.60,223.04 L548.10,225.68 L548.60,227.29 L549.10,227.88 L549.60,230.40 L550.10,231.05 L550.60,234.94 L551.10,237.20 L551.60,239.20 L552.10,238.96 L552.60,238.90 L553.10,240.44 L553.60,241.65 L554.10,242.86 L554.60,240.20 L555.10,246.52 L555.60,248.45 L556.10,249.59 L556.60,251.31 L557.10,254.15 L557.60,255.44 L558.10,253.75 L558.60,258.73 L559.10,257.59 L559.60,264.87 L560.10,266.83 L560.60,268.69 L561.10,269.13 L561.60,271.93 L562.10,272.67 L562.60,274.35 L563.10,277.16 L563.60,272.29 L564.10,279.19 L564.60,279.03 L565.10,286.10 L565.60,270.00 L566.10,284.94 L566.60,295.06 L567.10,297.95 L567.60,299.62 L568.10,299.37 L568.60,302.37 L569.10,303.86 L569.60,303.54 L570.10,307.42 L570.60,309.61 L571.10,309.85 L571.60,306.08 L572.10,312.08 L572.60,307.21 L573.10,314.73 L573.60,308.79 L574.10,313.63 L574.60,320.86 L574.60,338.37 L574.10,337.16 L573.60,335.14 L573.10,332.69 L572.60,334.22 L572.10,328.52 L571.60,326.97 L571.10,325.00 L570.60,329.11 L570.10,322.00 L569.60,320.38 L569.10,318.77 L568.60,316.67 L568.10,315.32 L567.60,313.27 L567.10,311.34 L566.60,308.10 L566.10,306.32 L565.60,304.90 L565.10,303.04 L564.60,300.42 L564.10,297.85 L563.60,295.29 L563.10,293.18 L562.60,292.59 L562.10,290.60 L561.60,293.51 L561.10,288.00 L560.60,284.77 L560.10,284.18 L559.60,286.86 L559.10,284.64 L558.60,274.73 L558.10,271.32 L557.60,269.40 L557.10,267.57 L556.60,265.42 L556.10,263.51 L555.60,261.60 L555.10,260.42 L554.60,258.99 L554.10,257.33 L553.60,255.19 L553.10,252.69 L552.60,250.84 L552.10,250.54 L551.60,251.01 L551.10,250.33 L550.60,248.60 L550.10,251.62 L549.60,245.33 L549.10,243.79 L548.60,241.84 L548.10,240.12 L547.60,238.04 L547.10,236.95 L546.60,237.65 L546.10,234.23 L545.60,232.44 L545.10,230.72 L544.60,228.34 L544.10,226.98 L543.60,224.39 L543.10,222.02 L542.60,219.73 L542.10,220.08 L541.60,221.24 L541.10,219.45 L540.60,218.67 L540.10,217.08 L539.60,215.93 L539.10,215.01 L538.60,213.96 L538.10,213.58 L537.60,211.87 L537.10,210.42 L536.60,209.39 L536.10,209.40 L535.60,216.25 L535.10,211.79 L534.60,210.87 L534.10,210.09 L533.60,209.27 L533.10,208.13 L532.60,206.28 L532.10,204.01 L531.60,202.70 L531.10,203.45 L530.60,198.65 L530.10,196.57 L529.60,195.73 L529.10,194.05 L528.60,196.50 L528.10,192.15 L527.60,191.56 L527.10,190.11 L526.60,189.80 L526.10,191.11 L525.60,191.16 L525.10,190.25 L524.60,189.60 L524.10,189.36 L523.60,188.10 L523.10,188.21 L522.60,187.24 L522.10,186.30 L521.60,185.57 L521.10,184.73 L520.60,183.38 L520.10,182.62 L519.60,181.48 L519.10,181.88 L518.60,179.17 L518.10,178.64 L517.60,179.40 L517.10,183.22 L516.60,182.40 L516.10,181.08 L515.60,179.57 L515.10,179.14 L514.60,177.79 L514.10,179.58 L513.60,180.22 L513.10,175.31 L512.60,175.72 L512.10,174.37 L511.60,174.37 L511.10,173.04 L510.60,172.27 L510.10,172.69 L509.60,174.25 L509.10,178.44 L508.60,176.27 L508.10,175.95 L507.60,175.39 L507.10,175.91 L506.60,174.26 L506.10,174.53 L505.60,172.11 L505.10,171.65 L504.60,170.91 L504.10,170.49 L503.60,169.65 L503.10,169.53 L502.60,169.53 L502.10,169.32 L501.60,169.12 L501.10,168.99 L500.60,171.54 L500.10,173.09 L499.60,172.72 L499.10,172.27 L498.60,172.08 L498.10,172.32 L497.60,171.91 L497.10,171.48 L496.60,176.48 L496.10,172.88 L495.60,172.23 L495.10,171.43 L494.60,171.69 L494.10,172.12 L493.60,173.50 L493.10,174.61 L492.60,174.05 L492.10,174.27 L491.60,177.08 L491.10,173.75 L490.60,175.00 L490.10,175.23 L489.60,175.88 L489.10,175.09 L488.60,175.26 L488.10,176.45 L487.60,175.95 L487.10,176.13 L486.60,177.01 L486.10,176.78 L485.60,177.09 L485.10,181.45 L484.60,176.69 L484.10,178.60 L483.60,179.32 L483.10,186.76 L482.60,181.70 L482.10,182.59 L481.60,182.92 L481.10,183.77 L480.60,184.46 L480.10,184.84 L479.60,191.67 L479.10,185.51 L478.60,184.86 L478.10,185.07 L477.60,185.41 L477.10,188.41 L476.60,191.45 L476.10,194.78 L475.60,201.73 L475.10,195.60 L474.60,195.77 L474.10,196.33 L473.60,202.37 L473.10,196.53 L472.60,196.73 L472.10,200.62 L471.60,197.48 L471.10,198.48 L470.60,199.44 L470.10,207.32 L469.60,201.51 L469.10,204.14 L468.60,206.26 L468.10,207.21 L467.60,206.87 L467.10,207.65 L466.60,208.67 L466.10,209.79 L465.60,210.15 L465.10,211.38 L464.60,211.08 L464.10,212.27 L463.60,212.63 L463.10,216.53 L462.60,215.38 L462.10,217.16 L461.60,219.34 L461.10,226.73 L460.60,224.81 L460.10,225.35 L459.60,234.49 L459.10,226.87 L458.60,237.88 L458.10,229.96 L457.60,231.03 L457.10,232.52 L456.60,234.19 L456.10,239.31 L455.60,244.00 L455.10,236.73 L454.60,237.62 L454.10,242.10 L453.60,246.02 L453.10,256.37 L452.60,254.40 L452.10,248.20 L451.60,249.43 L451.10,250.53 L450.60,251.23 L450.10,252.44 L449.60,254.32 L449.10,260.45 L448.60,256.04 L448.10,261.67 L447.60,260.52 L447.10,261.50 L446.60,262.73 L446.10,272.94 L445.60,273.75 L445.10,271.60 L444.60,275.86 L444.10,279.56 L443.60,279.38 L443.10,280.99 L442.60,282.10 L442.10,283.39 L441.60,288.36 L441.10,286.12 L440.60,287.89 L440.10,288.95 L439.60,303.28 L439.10,291.69 L438.60,294.85 L438.10,301.44 L437.60,302.21 L437.10,302.78 L436.60,303.74 L436.10,304.11 L435.60,305.15 L435.10,315.68 L434.60,306.96 L434.10,313.44 L433.60,308.80 L433.10,312.17 L432.60,316.20 L432.10,318.24 L431.60,319.74 L431.10,321.45 L430.60,321.77 L430.10,323.82 L429.60,324.95 L429.10,326.47 L428.60,328.40 L428.10,335.57 L427.60,336.91 L427.10,331.82 L426.60,331.30Z" fill="#2ca02c" stroke="#2ca02c" stroke-width="0.5" stroke-linejoin="round"/>
<path d="M254.5,317.0 L426.6,324.4" stroke="#2ca02c" stroke-width="0.8" fill="none"/>
<path d="M626.00,294.53 L626.50,293.09 L627.00,282.36 L627.50,289.89 L628.00,289.27 L628.50,287.05 L629.00,283.44 L629.50,276.04 L630.00,280.98 L630.50,280.98 L631.00,281.84 L631.50,280.54 L632.00,280.14 L632.50,280.04 L633.00,279.85 L633.50,272.52 L634.00,277.28 L634.50,273.62 L635.00,270.61 L635.50,268.75 L636.00,260.24 L636.50,265.90 L637.00,261.12 L637.50,263.34 L638.00,262.76 L638.50,261.60 L639.00,259.78 L639.50,258.69 L640.00,256.65 L640.50,255.58 L641.00,253.18 L641.50,251.74 L642.00,241.05 L642.50,248.35 L643.00,247.42 L643.50,244.77 L644.00,242.04 L644.50,240.54 L645.00,238.92 L645.50,238.29 L646.00,237.63 L646.50,236.60 L647.00,234.44 L647.50,225.42 L648.00,230.76 L648.50,229.31 L649.00,219.77 L649.50,215.56 L650.00,220.78 L650.50,219.38 L651.00,217.39 L651.50,216.07 L652.00,215.12 L652.50,215.11 L653.00,215.33 L653.50,214.11 L654.00,213.40 L654.50,212.57 L655.00,212.58 L655.50,211.34 L656.00,205.33 L656.50,209.21 L657.00,205.66 L657.50,204.17 L658.00,201.10 L658.50,202.33 L659.00,201.29 L659.50,200.97 L660.00,200.09 L660.50,198.89 L661.00,197.70 L661.50,197.27 L662.00,196.93 L662.50,196.57 L663.00,195.71 L663.50,194.61 L664.00,190.66 L664.50,189.86 L665.00,189.35 L665.50,188.39 L666.00,184.79 L666.50,187.01 L667.00,186.62 L667.50,185.29 L668.00,184.99 L668.50,184.46 L669.00,183.81 L669.50,183.01 L670.00,182.03 L670.50,182.07 L671.00,180.49 L671.50,179.94 L672.00,179.83 L672.50,179.92 L673.00,177.94 L673.50,174.36 L674.00,171.54 L674.50,167.73 L675.00,171.84 L675.50,170.99 L676.00,170.40 L676.50,169.57 L677.00,169.17 L677.50,166.53 L678.00,168.11 L678.50,168.29 L679.00,167.32 L679.50,167.18 L680.00,162.33 L680.50,166.24 L681.00,165.54 L681.50,165.06 L682.00,164.93 L682.50,162.27 L683.00,158.35 L683.50,158.38 L684.00,157.58 L684.50,153.78 L685.00,157.27 L685.50,156.75 L686.00,156.88 L686.50,156.60 L687.00,155.48 L687.50,155.78 L688.00,155.23 L688.50,154.62 L689.00,149.52 L689.50,154.22 L690.00,154.38 L690.50,153.46 L691.00,153.40 L691.50,152.56 L692.00,148.04 L692.50,148.04 L693.00,148.89 L693.50,149.43 L694.00,149.86 L694.50,149.50 L695.00,149.48 L695.50,149.07 L696.00,148.81 L696.50,149.48 L697.00,149.19 L697.50,148.00 L698.00,149.14 L698.50,149.26 L699.00,149.22 L699.50,149.36 L700.00,149.06 L700.50,148.92 L701.00,148.89 L701.50,148.00 L702.00,145.49 L702.50,144.48 L703.00,140.39 L703.50,143.78 L704.00,143.55 L704.50,143.57 L705.00,144.37 L705.50,144.23 L706.00,144.68 L706.50,144.73 L707.00,143.27 L707.50,144.42 L708.00,143.94 L708.50,143.36 L709.00,141.68 L709.50,140.41 L710.00,140.09 L710.50,140.12 L711.00,140.23 L711.50,140.80 L712.00,140.14 L712.50,140.27 L713.00,140.64 L713.50,140.50 L714.00,140.53 L714.50,140.54 L715.00,141.49 L715.50,141.76 L716.00,141.00 L716.50,142.87 L717.00,142.81 L717.50,141.91 L718.00,138.37 L718.50,135.00 L719.00,142.20 L719.50,142.14 L720.00,142.57 L720.50,142.50 L721.00,143.68 L721.50,145.39 L722.00,145.97 L722.50,142.00 L723.00,142.89 L723.50,146.04 L724.00,143.61 L724.50,146.00 L725.00,146.62 L725.50,148.04 L726.00,143.84 L726.50,149.12 L727.00,149.05 L727.50,150.35 L728.00,146.28 L728.50,151.02 L729.00,151.72 L729.50,152.01 L730.00,153.32 L730.50,153.33 L731.00,153.66 L731.50,154.30 L732.00,154.06 L732.50,153.19 L733.00,153.07 L733.50,154.09 L734.00,152.34 L734.50,153.32 L735.00,156.28 L735.50,157.05 L736.00,155.67 L736.50,157.63 L737.00,158.79 L737.50,159.83 L738.00,158.42 L738.50,160.98 L739.00,161.16 L739.50,162.05 L740.00,162.87 L740.50,163.02 L741.00,161.29 L741.50,159.40 L742.00,160.14 L742.50,160.63 L743.00,161.88 L743.50,160.74 L744.00,163.24 L744.50,163.29 L745.00,159.71 L745.50,160.48 L746.00,162.35 L746.50,164.97 L747.00,167.27 L747.50,164.14 L748.00,164.04 L748.50,163.38 L749.00,162.03 L749.50,166.98 L750.00,163.42 L750.50,168.31 L751.00,169.33 L751.50,167.53 L752.00,170.81 L752.50,172.64 L753.00,168.98 L753.50,174.05 L754.00,174.14 L754.50,173.57 L755.00,171.89 L755.50,165.86 L756.00,170.73 L756.50,169.59 L757.00,172.72 L757.50,173.82 L758.00,174.11 L758.50,171.37 L759.00,175.52 L759.50,176.89 L760.00,177.89 L760.50,174.38 L761.00,176.38 L761.50,175.40 L762.00,175.66 L762.50,176.90 L763.00,177.40 L763.50,176.19 L764.00,178.73 L764.50,179.24 L765.00,180.40 L765.50,178.92 L766.00,182.71 L766.50,180.85 L767.00,184.12 L767.50,184.27 L768.00,184.95 L768.50,183.47 L769.00,183.55 L769.50,184.40 L770.00,185.42 L770.50,186.47 L771.00,187.11 L771.50,187.73 L772.00,188.53 L772.50,186.72 L773.00,189.42 L773.50,190.70 L774.00,191.79 L774.50,193.69 L775.00,194.44 L775.50,194.84 L776.00,195.40 L776.50,195.46 L777.00,194.84 L777.50,196.55 L778.00,198.24 L778.50,200.49 L779.00,202.73 L779.50,205.11 L780.00,200.21 L780.50,208.44 L781.00,208.28 L781.50,211.29 L782.00,212.30 L782.50,213.89 L783.00,213.36 L783.50,213.11 L784.00,212.35 L784.50,217.21 L785.00,218.26 L785.50,219.94 L786.00,221.92 L786.50,222.64 L787.00,224.08 L787.50,224.34 L788.00,224.87 L788.50,225.57 L789.00,224.17 L789.50,221.66 L790.00,216.00 L790.50,222.64 L791.00,223.64 L791.50,224.56 L792.00,225.60 L792.50,219.36 L793.00,225.34 L793.50,226.65 L794.00,226.20 L794.50,227.52 L795.00,223.96 L795.50,228.46 L796.00,229.19 L796.50,230.51 L797.00,225.38 L797.50,231.63 L798.00,229.64 L798.50,227.87 L799.00,228.21 L799.50,229.64 L800.00,231.42 L800.50,232.21 L801.00,232.89 L801.50,233.04 L802.00,235.40 L802.50,237.08 L803.00,239.36 L803.50,239.90 L804.00,235.39 L804.50,241.82 L805.00,242.09 L805.50,236.02 L806.00,238.26 L806.50,244.23 L807.00,245.94 L807.50,251.48 L808.00,253.56 L808.50,256.26 L809.00,258.66 L809.50,260.19 L810.00,259.26 L810.50,263.88 L811.00,265.72 L811.50,266.54 L812.00,267.63 L812.50,265.66 L813.00,263.26 L813.50,267.64 L814.00,271.41 L814.50,274.19 L815.00,278.00 L815.50,280.98 L816.00,284.44 L816.50,287.78 L817.00,291.49 L817.00,321.98 L816.50,318.80 L816.00,315.63 L815.50,318.58 L815.00,308.01 L814.50,304.23 L814.00,300.98 L813.50,298.22 L813.00,294.37 L812.50,294.84 L812.00,295.37 L811.50,292.68 L811.00,290.12 L810.50,290.14 L810.00,282.88 L809.50,287.06 L809.00,277.42 L808.50,274.60 L808.00,271.41 L807.50,267.99 L807.00,265.88 L806.50,262.65 L806.00,260.29 L805.50,265.63 L805.00,257.31 L804.50,256.86 L804.00,256.84 L803.50,256.66 L803.00,260.22 L802.50,260.64 L802.00,262.66 L801.50,251.80 L801.00,250.51 L800.50,248.65 L800.00,246.98 L799.50,247.18 L799.00,246.10 L798.50,244.97 L798.00,246.53 L797.50,249.14 L797.00,254.23 L796.50,246.74 L796.00,246.43 L795.50,248.92 L795.00,243.49 L794.50,243.62 L794.00,242.74 L793.50,241.83 L793.00,247.44 L792.50,239.67 L792.00,238.85 L791.50,238.10 L791.00,238.67 L790.50,238.20 L790.00,241.46 L789.50,236.56 L789.00,238.48 L788.50,240.06 L788.00,238.92 L787.50,238.46 L787.00,237.44 L786.50,236.73 L786.00,237.37 L785.50,234.97 L785.00,233.81 L784.50,231.61 L784.00,230.36 L783.50,228.82 L783.00,229.71 L782.50,230.96 L782.00,229.30 L781.50,228.03 L781.00,226.77 L780.50,225.78 L780.00,224.14 L779.50,221.15 L779.00,219.00 L778.50,216.53 L778.00,215.14 L777.50,212.97 L777.00,212.32 L776.50,210.08 L776.00,210.68 L775.50,208.79 L775.00,208.22 L774.50,206.76 L774.00,205.33 L773.50,203.50 L773.00,202.08 L772.50,201.27 L772.00,199.66 L771.50,198.63 L771.00,197.82 L770.50,197.12 L770.00,197.15 L769.50,196.27 L769.00,194.46 L768.50,199.64 L768.00,197.44 L767.50,196.75 L767.00,196.25 L766.50,195.28 L766.00,198.87 L765.50,192.07 L765.00,191.64 L764.50,191.09 L764.00,190.73 L763.50,189.87 L763.00,188.51 L762.50,187.66 L762.00,188.66 L761.50,189.03 L761.00,188.91 L760.50,189.52 L760.00,189.93 L759.50,188.46 L759.00,187.11 L758.50,189.48 L758.00,185.75 L757.50,184.62 L757.00,183.77 L756.50,183.07 L756.00,182.14 L755.50,181.08 L755.00,183.54 L754.50,184.44 L754.00,184.87 L753.50,184.48 L753.00,183.51 L752.50,182.70 L752.00,182.22 L751.50,181.17 L751.00,180.47 L750.50,179.04 L750.00,181.15 L749.50,178.04 L749.00,177.68 L748.50,176.82 L748.00,175.70 L747.50,177.83 L747.00,178.11 L746.50,178.12 L746.00,177.05 L745.50,176.87 L745.00,175.78 L744.50,178.35 L744.00,175.27 L743.50,174.98 L743.00,173.97 L742.50,173.16 L742.00,172.81 L741.50,173.50 L741.00,174.23 L740.50,175.15 L740.00,175.13 L739.50,174.56 L739.00,173.04 L738.50,172.89 L738.00,173.81 L737.50,171.55 L737.00,172.02 L736.50,171.03 L736.00,169.70 L735.50,168.82 L735.00,168.83 L734.50,167.40 L734.00,166.88 L733.50,166.34 L733.00,165.67 L732.50,166.90 L732.00,167.21 L731.50,167.99 L731.00,166.56 L730.50,166.35 L730.00,164.81 L729.50,163.97 L729.00,163.01 L728.50,161.63 L728.00,161.05 L727.50,160.70 L727.00,160.65 L726.50,159.80 L726.00,160.07 L725.50,157.61 L725.00,156.92 L724.50,157.20 L724.00,160.56 L723.50,158.14 L723.00,158.78 L722.50,161.28 L722.00,157.48 L721.50,156.46 L721.00,155.82 L720.50,154.64 L720.00,153.15 L719.50,152.49 L719.00,152.50 L718.50,151.18 L718.00,152.06 L717.50,152.57 L717.00,153.82 L716.50,153.05 L716.00,152.87 L715.50,152.88 L715.00,152.51 L714.50,152.29 L714.00,152.07 L713.50,151.12 L713.00,150.55 L712.50,150.42 L712.00,151.62 L711.50,153.23 L711.00,151.25 L710.50,151.64 L710.00,153.42 L709.50,156.28 L709.00,153.02 L708.50,155.42 L708.00,155.13 L707.50,155.64 L707.00,155.01 L706.50,155.23 L706.00,155.98 L705.50,154.89 L705.00,155.33 L704.50,154.52 L704.00,155.67 L703.50,157.19 L703.00,154.43 L702.50,154.98 L702.00,156.55 L701.50,158.80 L701.00,159.75 L700.50,159.83 L700.00,159.19 L699.50,159.11 L699.00,158.86 L698.50,159.24 L698.00,159.75 L697.50,159.47 L697.00,159.83 L696.50,159.04 L696.00,158.67 L695.50,160.07 L695.00,158.96 L694.50,159.11 L694.00,159.67 L693.50,159.54 L693.00,163.38 L692.50,159.57 L692.00,163.29 L691.50,166.30 L691.00,164.88 L690.50,163.03 L690.00,163.22 L689.50,163.64 L689.00,163.48 L688.50,163.69 L688.00,163.82 L687.50,164.32 L687.00,165.01 L686.50,165.37 L686.00,166.00 L685.50,168.29 L685.00,166.22 L684.50,166.49 L684.00,166.60 L683.50,167.34 L683.00,168.77 L682.50,172.29 L682.00,175.45 L681.50,177.55 L681.00,176.97 L680.50,177.36 L680.00,178.90 L679.50,179.59 L679.00,179.88 L678.50,180.40 L678.00,181.95 L677.50,185.50 L677.00,182.57 L676.50,183.33 L676.00,183.22 L675.50,183.70 L675.00,189.02 L674.50,184.71 L674.00,187.67 L673.50,187.83 L673.00,189.61 L672.50,191.11 L672.00,197.63 L671.50,192.26 L671.00,193.76 L670.50,193.35 L670.00,199.34 L669.50,195.17 L669.00,195.32 L668.50,195.90 L668.00,196.66 L667.50,197.61 L667.00,198.90 L666.50,198.99 L666.00,199.88 L665.50,202.54 L665.00,201.47 L664.50,202.66 L664.00,203.72 L663.50,209.52 L663.00,214.35 L662.50,209.85 L662.00,210.68 L661.50,211.78 L661.00,213.36 L660.50,214.45 L660.00,222.37 L659.50,217.20 L659.00,217.98 L658.50,218.64 L658.00,219.00 L657.50,220.46 L657.00,222.97 L656.50,226.71 L656.00,228.15 L655.50,228.73 L655.00,228.99 L654.50,228.82 L654.00,236.01 L653.50,228.99 L653.00,229.40 L652.50,230.15 L652.00,233.83 L651.50,232.90 L651.00,233.35 L650.50,235.19 L650.00,239.09 L649.50,238.70 L649.00,242.49 L648.50,252.20 L648.00,247.18 L647.50,249.07 L647.00,250.77 L646.50,251.97 L646.00,253.24 L645.50,255.49 L645.00,257.14 L644.50,258.94 L644.00,265.72 L643.50,263.57 L643.00,267.70 L642.50,269.46 L642.00,273.33 L641.50,273.46 L641.00,275.73 L640.50,281.45 L640.00,280.27 L639.50,282.72 L639.00,291.14 L638.50,285.54 L638.00,287.01 L637.50,290.89 L637.00,288.22 L636.50,289.51 L636.00,301.45 L635.50,291.57 L635.00,299.29 L634.50,302.50 L634.00,307.98 L633.50,302.50 L633.00,304.28 L632.50,303.86 L632.00,304.71 L631.50,305.66 L631.00,306.56 L630.50,309.75 L630.00,307.91 L629.50,317.53 L629.00,311.76 L628.50,315.26 L628.00,324.99 L627.50,317.50 L627.00,326.24 L626.50,319.09 L626.00,319.62Z" fill="#d62728" stroke="#d62728" stroke-width="0.5" stroke-linejoin="round"/>
<path d="M160.00,183.70 L160.50,181.91 L161.00,182.83 L161.50,183.25 L162.00,184.49 L162.50,185.68 L163.00,186.73 L163.50,187.77 L164.00,184.84 L164.50,184.61 L165.00,192.60 L165.50,194.91 L166.00,196.24 L166.50,197.17 L167.00,197.60 L167.50,197.52 L168.00,198.16 L168.50,199.11 L169.00,200.60 L169.50,201.99 L170.00,197.76 L170.50,202.45 L171.00,205.30 L171.50,206.99 L172.00,208.39 L172.50,210.33 L173.00,211.67 L173.50,212.15 L174.00,211.37 L174.50,212.19 L175.00,214.38 L175.50,215.80 L176.00,217.68 L176.50,212.57 L177.00,216.87 L177.50,221.79 L178.00,220.97 L178.50,225.41 L179.00,226.60 L179.50,225.26 L180.00,229.25 L180.50,230.27 L181.00,232.38 L181.50,234.23 L182.00,235.09 L182.50,234.59 L183.00,234.80 L183.50,236.84 L184.00,237.94 L184.50,239.58 L185.00,240.62 L185.50,242.63 L186.00,243.87 L186.50,242.10 L187.00,246.73 L187.50,248.51 L188.00,250.87 L188.50,253.45 L189.00,255.15 L189.50,256.13 L190.00,249.15 L190.50,251.23 L191.00,259.44 L191.50,255.35 L192.00,259.85 L192.50,260.88 L193.00,265.14 L193.50,266.55 L194.00,268.45 L194.50,270.70 L195.00,272.08 L195.50,273.76 L196.00,274.31 L196.50,275.37 L197.00,274.47 L197.50,275.63 L198.00,275.10 L198.50,276.92 L199.00,279.30 L199.50,276.38 L200.00,276.96 L200.50,278.03 L201.00,284.95 L201.50,286.19 L202.00,281.13 L202.50,283.91 L203.00,291.99 L203.50,289.23 L204.00,295.31 L204.50,296.77 L205.00,294.95 L205.50,299.22 L206.00,300.76 L206.50,302.36 L207.00,305.50 L207.50,308.31 L208.00,311.54 L208.00,327.39 L207.50,329.22 L207.00,324.40 L206.50,322.85 L206.00,323.22 L205.50,323.67 L205.00,324.35 L204.50,322.68 L204.00,324.16 L203.50,319.47 L203.00,318.11 L202.50,316.14 L202.00,314.02 L201.50,322.58 L201.00,310.64 L200.50,312.37 L200.00,307.29 L199.50,305.58 L199.00,303.53 L198.50,301.67 L198.00,299.85 L197.50,298.45 L197.00,300.47 L196.50,296.42 L196.00,295.82 L195.50,304.61 L195.00,300.46 L194.50,293.37 L194.00,289.64 L193.50,299.28 L193.00,295.59 L192.50,284.41 L192.00,282.91 L191.50,281.76 L191.00,286.10 L190.50,280.09 L190.00,283.65 L189.50,277.40 L189.00,276.15 L188.50,274.27 L188.00,272.39 L187.50,270.37 L187.00,269.24 L186.50,267.65 L186.00,271.47 L185.50,264.10 L185.00,262.23 L184.50,260.72 L184.00,259.27 L183.50,257.58 L183.00,255.75 L182.50,254.98 L182.00,254.58 L181.50,253.58 L181.00,252.41 L180.50,250.71 L180.00,248.70 L179.50,246.61 L179.00,244.69 L178.50,251.94 L178.00,241.22 L177.50,239.66 L177.00,238.03 L176.50,236.78 L176.00,234.79 L175.50,232.96 L175.00,230.83 L174.50,228.82 L174.00,227.90 L173.50,227.93 L173.00,227.68 L172.50,227.24 L172.00,224.92 L171.50,223.50 L171.00,222.53 L170.50,219.98 L170.00,219.76 L169.50,216.84 L169.00,215.97 L168.50,215.86 L168.00,213.40 L167.50,212.85 L167.00,212.78 L166.50,212.00 L166.00,211.37 L165.50,208.40 L165.00,206.49 L164.50,204.49 L164.00,202.48 L163.50,200.12 L163.00,198.37 L162.50,197.93 L162.00,194.48 L161.50,192.45 L161.00,191.62 L160.50,190.82 L160.00,189.53Z" fill="#9467bd" stroke="#9467bd" stroke-width="0.5" stroke-linejoin="round"/>
<path d="M543.00,321.31 L543.50,321.30 L544.00,321.03 L544.50,323.70 L545.00,322.99 L545.50,324.07 L546.00,324.17 L546.50,326.56 L547.00,327.29 L547.50,329.22 L548.00,323.81 L548.50,332.66 L549.00,334.52 L549.50,332.08 L550.00,330.62 L550.50,323.68 L551.00,328.78 L551.50,325.38 L552.00,319.86 L552.50,320.93 L553.00,317.37 L553.50,322.78 L554.00,322.80 L554.50,324.72 L555.00,325.12 L555.50,325.15 L556.00,324.49 L556.50,322.78 L557.00,316.00 L557.50,315.90 L558.00,312.67 L558.50,309.94 L559.00,295.83 L559.50,307.59 L560.00,308.39 L560.50,309.60 L561.00,311.07 L561.50,309.26 L562.00,313.48 L562.50,314.33 L563.00,317.04 L563.50,312.13 L564.00,319.55 L564.50,321.12 L565.00,316.49 L565.50,313.13 L566.00,311.44 L566.50,312.58 L567.00,314.04 L567.50,314.93 L568.00,317.39 L568.50,317.15 L569.00,319.52 L569.50,319.41 L570.00,322.71 L570.50,323.99 L571.00,323.57 L571.50,321.63 L572.00,320.10 L572.50,317.44 L573.00,323.51 L573.00,337.40 L572.50,336.93 L572.00,336.77 L571.50,337.80 L571.00,347.54 L570.50,341.83 L570.00,346.51 L569.50,339.96 L569.00,338.07 L568.50,338.03 L568.00,337.27 L567.50,341.26 L567.00,336.36 L566.50,335.21 L566.00,333.00 L565.50,334.21 L565.00,338.47 L564.50,341.21 L564.00,349.34 L563.50,338.99 L563.00,337.51 L562.50,337.69 L562.00,336.44 L561.50,334.58 L561.00,333.72 L560.50,330.51 L560.00,331.31 L559.50,339.30 L559.00,347.36 L558.50,336.07 L558.00,337.56 L557.50,340.42 L557.00,343.55 L556.50,344.97 L556.00,345.42 L555.50,345.02 L555.00,343.68 L554.50,344.77 L554.00,342.83 L553.50,342.55 L553.00,343.10 L552.50,342.53 L552.00,343.78 L551.50,346.99 L551.00,350.79 L550.50,350.39 L550.00,349.78 L549.50,348.62 L549.00,347.92 L548.50,368.00 L548.00,346.22 L547.50,345.55 L547.00,344.46 L546.50,343.45 L546.00,342.90 L545.50,343.12 L545.00,341.64 L544.50,341.97 L544.00,340.72 L543.50,340.07 L543.00,341.53Z" fill="#9467bd" stroke="#9467bd" stroke-width="0.5" stroke-linejoin="round"/>
<path d="M753.00,307.37 L753.50,305.10 L754.00,303.65 L754.50,300.34 L755.00,303.21 L755.50,303.06 L756.00,287.83 L756.50,279.72 L757.00,289.97 L757.50,289.79 L758.00,289.76 L758.50,288.91 L759.00,286.14 L759.50,287.34 L760.00,286.16 L760.50,285.80 L761.00,285.24 L761.50,276.66 L762.00,279.55 L762.50,278.92 L763.00,277.83 L763.50,276.37 L764.00,275.26 L764.50,274.30 L765.00,271.68 L765.50,271.98 L766.00,271.19 L766.50,268.13 L767.00,262.73 L767.50,261.50 L768.00,265.79 L768.50,256.08 L769.00,259.21 L769.50,257.84 L770.00,248.02 L770.50,255.12 L771.00,254.53 L771.50,253.71 L772.00,253.02 L772.50,251.59 L773.00,249.67 L773.50,248.21 L774.00,247.32 L774.50,246.36 L775.00,244.82 L775.50,242.59 L776.00,240.67 L776.50,238.90 L777.00,232.14 L777.50,235.93 L778.00,235.91 L778.50,234.15 L779.00,233.21 L779.50,231.13 L780.00,229.36 L780.50,227.42 L781.00,226.32 L781.50,219.16 L782.00,224.40 L782.50,223.72 L783.00,223.36 L783.50,222.17 L784.00,220.65 L784.50,218.28 L785.00,215.17 L785.50,214.77 L786.00,213.50 L786.50,210.62 L787.00,211.43 L787.50,211.72 L788.00,211.35 L788.50,210.98 L789.00,205.43 L789.50,209.85 L790.00,209.17 L790.50,209.11 L791.00,208.08 L791.50,207.41 L792.00,205.40 L792.50,204.24 L793.00,203.76 L793.50,202.13 L794.00,202.59 L794.50,201.46 L795.00,197.27 L795.50,198.70 L796.00,197.90 L796.50,196.46 L797.00,195.94 L797.50,195.26 L798.00,193.63 L798.50,188.15 L799.00,187.43 L799.50,188.95 L800.00,183.09 L800.50,187.61 L801.00,187.13 L801.50,187.34 L802.00,187.48 L802.50,187.98 L803.00,187.74 L803.50,183.84 L804.00,189.08 L804.50,185.90 L805.00,187.52 L805.50,184.52 L806.00,181.71 L806.50,179.79 L807.00,179.44 L807.50,179.61 L808.00,179.47 L808.50,180.94 L809.00,180.49 L809.50,178.63 L810.00,179.60 L810.50,180.58 L811.00,179.51 L811.50,179.90 L812.00,179.47 L812.50,178.37 L813.00,175.88 L813.50,175.90 L814.00,174.93 L814.50,175.05 L815.00,174.94 L815.50,175.47 L816.00,175.33 L816.50,174.77 L817.00,175.41 L817.50,175.20 L818.00,174.89 L818.50,174.36 L819.00,173.18 L819.50,167.64 L820.00,168.82 L820.50,168.73 L821.00,167.77 L821.50,168.49 L822.00,168.50 L822.50,168.79 L823.00,168.68 L823.50,168.59 L824.00,166.93 L824.50,166.04 L825.00,170.25 L825.50,170.70 L826.00,170.32 L826.50,170.01 L827.00,169.01 L827.50,166.49 L828.00,165.55 L828.50,165.25 L829.00,164.96 L829.50,165.44 L830.00,165.25 L830.50,165.23 L831.00,165.05 L831.50,164.84 L832.00,165.35 L832.50,165.37 L833.00,166.49 L833.50,166.24 L834.00,165.37 L834.50,166.24 L835.00,161.99 L835.50,161.23 L836.00,161.07 L836.50,161.85 L837.00,158.56 L837.50,161.49 L838.00,161.07 L838.50,160.67 L839.00,160.25 L839.50,160.64 L840.00,160.34 L840.50,159.54 L841.00,159.84 L841.50,160.13 L842.00,160.49 L842.50,160.49 L843.00,160.12 L843.50,160.39 L844.00,154.00 L844.50,159.11 L845.00,158.28 L845.50,157.34 L846.00,158.27 L846.50,159.21 L847.00,159.76 L847.50,160.05 L848.00,160.31 L848.50,161.49 L849.00,162.44 L849.50,162.86 L850.00,163.84 L850.50,163.85 L851.00,165.19 L851.50,165.24 L852.00,165.92 L852.50,166.83 L853.00,168.37 L853.50,169.82 L854.00,171.05 L854.50,170.84 L855.00,170.37 L855.50,169.77 L856.00,170.31 L856.50,168.68 L857.00,172.50 L857.50,172.97 L858.00,174.95 L858.50,176.11 L859.00,175.78 L859.50,172.00 L860.00,178.10 L860.50,175.89 L861.00,180.12 L861.50,180.31 L862.00,177.37 L862.50,178.88 L863.00,178.94 L863.50,177.38 L864.00,178.06 L864.50,178.51 L865.00,179.89 L865.00,190.08 L864.50,189.33 L864.00,188.71 L863.50,188.23 L863.00,190.08 L862.50,192.95 L862.00,192.16 L861.50,191.33 L861.00,191.29 L860.50,190.33 L860.00,190.11 L859.50,190.21 L859.00,189.37 L858.50,188.70 L858.00,187.14 L857.50,186.49 L857.00,186.27 L856.50,186.75 L856.00,184.18 L855.50,183.81 L855.00,183.57 L854.50,186.30 L854.00,183.90 L853.50,182.76 L853.00,181.31 L852.50,181.03 L852.00,180.04 L851.50,178.73 L851.00,177.43 L850.50,176.95 L850.00,175.93 L849.50,174.85 L849.00,177.10 L848.50,172.81 L848.00,172.04 L847.50,171.28 L847.00,170.40 L846.50,169.98 L846.00,169.13 L845.50,169.13 L845.00,168.82 L844.50,170.66 L844.00,172.50 L843.50,171.91 L843.00,171.17 L842.50,170.12 L842.00,170.00 L841.50,170.02 L841.00,170.94 L840.50,171.33 L840.00,171.29 L839.50,171.25 L839.00,171.18 L838.50,171.33 L838.00,170.87 L837.50,171.90 L837.00,171.60 L836.50,173.64 L836.00,171.91 L835.50,170.90 L835.00,171.42 L834.50,175.76 L834.00,175.56 L833.50,176.51 L833.00,176.32 L832.50,176.10 L832.00,175.85 L831.50,175.77 L831.00,176.12 L830.50,175.58 L830.00,176.04 L829.50,175.26 L829.00,175.30 L828.50,174.89 L828.00,177.31 L827.50,177.73 L827.00,179.45 L826.50,180.01 L826.00,179.56 L825.50,183.27 L825.00,179.34 L824.50,181.68 L824.00,179.88 L823.50,182.54 L823.00,181.72 L822.50,180.32 L822.00,179.72 L821.50,180.16 L821.00,180.13 L820.50,179.21 L820.00,179.51 L819.50,180.97 L819.00,183.51 L818.50,185.57 L818.00,190.39 L817.50,187.76 L817.00,188.57 L816.50,193.65 L816.00,188.01 L815.50,187.39 L815.00,188.05 L814.50,188.72 L814.00,189.38 L813.50,189.85 L813.00,189.69 L812.50,192.13 L812.00,195.12 L811.50,194.22 L811.00,194.02 L810.50,193.35 L810.00,193.58 L809.50,193.72 L809.00,194.16 L808.50,193.56 L808.00,192.86 L807.50,193.39 L807.00,193.00 L806.50,193.72 L806.00,194.05 L805.50,196.70 L805.00,198.37 L804.50,201.53 L804.00,199.90 L803.50,200.13 L803.00,199.63 L802.50,199.77 L802.00,199.94 L801.50,199.26 L801.00,199.21 L800.50,200.14 L800.00,200.71 L799.50,202.23 L799.00,204.11 L798.50,206.01 L798.00,207.36 L797.50,210.05 L797.00,209.35 L796.50,214.60 L796.00,212.35 L795.50,213.17 L795.00,213.63 L794.50,214.41 L794.00,215.50 L793.50,216.04 L793.00,217.17 L792.50,218.47 L792.00,222.16 L791.50,220.67 L791.00,221.86 L790.50,223.09 L790.00,223.67 L789.50,224.42 L789.00,228.28 L788.50,227.83 L788.00,226.20 L787.50,226.60 L787.00,227.85 L786.50,227.70 L786.00,229.45 L785.50,232.67 L785.00,238.60 L784.50,234.52 L784.00,240.51 L783.50,238.69 L783.00,239.93 L782.50,241.20 L782.00,241.71 L781.50,242.98 L781.00,244.18 L780.50,251.54 L780.00,246.89 L779.50,246.75 L779.00,247.31 L778.50,247.53 L778.00,249.06 L777.50,251.11 L777.00,252.98 L776.50,253.94 L776.00,255.96 L775.50,258.60 L775.00,262.09 L774.50,263.85 L774.00,264.77 L773.50,266.56 L773.00,267.59 L772.50,269.71 L772.00,279.91 L771.50,272.53 L771.00,273.87 L770.50,277.34 L770.00,276.59 L769.50,277.72 L769.00,279.08 L768.50,280.36 L768.00,286.22 L767.50,289.16 L767.00,289.92 L766.50,290.56 L766.00,291.75 L765.50,293.36 L765.00,294.04 L764.50,295.64 L764.00,296.28 L763.50,297.29 L763.00,298.04 L762.50,298.94 L762.00,300.30 L761.50,304.54 L761.00,308.26 L760.50,309.41 L760.00,316.10 L759.50,312.07 L759.00,314.07 L758.50,324.04 L758.00,316.94 L757.50,318.41 L757.00,319.04 L756.50,323.62 L756.00,329.87 L755.50,335.16 L755.00,337.07 L754.50,338.49 L754.00,341.21 L753.50,342.02 L753.00,342.12Z" fill="#9467bd" stroke="#9467bd" stroke-width="0.5" stroke-linejoin="round"/>
<path d="M208.5,321.3 L543.0,336.4" stroke="#9467bd" stroke-width="0.8" fill="none"/>
<path d="M573.0,330.0 L753.0,321.0" stroke="#9467bd" stroke-width="0.8" fill="none"/>
<path d="M310.00,306.57 L310.50,306.27 L311.00,304.50 L311.50,303.34 L312.00,302.46 L312.50,295.91 L313.00,300.42 L313.50,298.34 L314.00,296.50 L314.50,293.19 L315.00,288.81 L315.50,283.14 L316.00,278.32 L316.50,276.94 L317.00,275.09 L317.50,274.66 L318.00,262.18 L318.50,273.23 L319.00,263.57 L319.50,255.95 L320.00,269.04 L320.50,268.52 L321.00,267.73 L321.50,266.51 L322.00,264.35 L322.50,261.45 L323.00,259.25 L323.50,256.88 L324.00,255.76 L324.50,254.32 L325.00,247.55 L325.50,252.45 L326.00,241.00 L326.50,249.90 L327.00,247.75 L327.50,247.00 L328.00,238.11 L328.50,242.01 L329.00,238.74 L329.50,236.42 L330.00,234.21 L330.50,232.84 L331.00,231.24 L331.50,230.76 L332.00,229.98 L332.50,226.86 L333.00,229.12 L333.50,228.64 L334.00,226.66 L334.50,220.48 L335.00,224.94 L335.50,218.12 L336.00,212.11 L336.50,219.20 L337.00,216.51 L337.50,214.39 L338.00,213.73 L338.50,210.34 L339.00,211.57 L339.50,212.74 L340.00,206.81 L340.50,212.69 L341.00,213.28 L341.50,213.23 L342.00,212.85 L342.50,212.22 L343.00,212.34 L343.50,211.58 L344.00,210.80 L344.50,210.38 L345.00,210.52 L345.50,210.25 L346.00,209.52 L346.50,207.17 L347.00,205.03 L347.50,204.84 L348.00,204.71 L348.50,202.93 L349.00,204.41 L349.50,195.44 L350.00,201.42 L350.50,198.47 L351.00,196.06 L351.50,185.93 L352.00,190.80 L352.50,190.00 L353.00,188.98 L353.50,189.14 L354.00,189.21 L354.50,188.43 L355.00,189.52 L355.50,189.07 L356.00,189.91 L356.50,190.50 L357.00,191.50 L357.50,188.75 L358.00,186.97 L358.50,192.37 L359.00,192.01 L359.50,191.27 L360.00,192.61 L360.50,192.56 L361.00,191.74 L361.50,184.93 L362.00,185.99 L362.50,186.71 L363.00,187.35 L363.50,188.45 L364.00,189.15 L364.50,186.53 L365.00,190.64 L365.50,191.14 L366.00,191.72 L366.50,189.26 L367.00,192.75 L367.50,187.55 L368.00,182.73 L368.50,181.33 L369.00,187.48 L369.50,187.27 L370.00,187.74 L370.50,186.98 L371.00,187.06 L371.50,190.17 L372.00,190.17 L372.50,190.81 L373.00,187.80 L373.50,185.44 L374.00,184.59 L374.50,184.98 L375.00,184.68 L375.50,185.28 L376.00,186.46 L376.50,185.86 L377.00,186.88 L377.50,187.41 L378.00,188.49 L378.50,188.22 L379.00,186.80 L379.50,185.66 L380.00,184.41 L380.50,184.39 L381.00,185.55 L381.50,186.24 L382.00,187.54 L382.50,186.18 L383.00,189.50 L383.50,191.36 L384.00,193.09 L384.50,195.84 L385.00,196.53 L385.50,195.05 L386.00,193.31 L386.50,194.02 L387.00,194.04 L387.50,194.66 L388.00,192.91 L388.50,194.98 L389.00,192.42 L389.50,196.02 L390.00,197.81 L390.50,198.10 L391.00,196.86 L391.50,199.02 L392.00,199.85 L392.50,200.64 L393.00,199.14 L393.50,197.36 L394.00,193.44 L394.50,198.27 L395.00,199.89 L395.50,200.37 L396.00,201.80 L396.50,202.36 L397.00,203.95 L397.50,200.76 L398.00,207.41 L398.50,205.82 L399.00,205.43 L399.50,203.48 L400.00,204.17 L400.50,205.43 L401.00,206.83 L401.50,209.12 L402.00,210.44 L402.50,211.10 L403.00,212.95 L403.50,214.85 L404.00,216.52 L404.50,217.50 L405.00,219.16 L405.50,218.79 L406.00,213.35 L406.50,218.72 L407.00,219.27 L407.50,220.94 L408.00,215.62 L408.50,223.57 L409.00,224.53 L409.50,223.83 L410.00,227.71 L410.50,228.87 L411.00,230.26 L411.50,231.12 L412.00,231.88 L412.50,233.73 L413.00,234.72 L413.50,233.71 L414.00,226.92 L414.50,232.39 L415.00,229.56 L415.50,234.68 L416.00,235.27 L416.50,236.79 L417.00,238.44 L417.50,237.48 L418.00,235.68 L418.50,241.15 L419.00,242.43 L419.50,243.99 L420.00,245.80 L420.50,240.73 L421.00,239.77 L421.50,250.54 L422.00,244.07 L422.50,252.72 L423.00,254.62 L423.50,249.74 L424.00,254.54 L424.50,252.70 L425.00,251.46 L425.50,253.71 L426.00,253.52 L426.50,258.20 L427.00,260.80 L427.50,263.63 L428.00,254.62 L428.50,267.93 L429.00,269.67 L429.50,270.31 L430.00,270.96 L430.50,271.30 L431.00,272.42 L431.50,274.81 L432.00,276.78 L432.50,278.30 L433.00,281.47 L433.50,283.63 L434.00,282.41 L434.50,277.92 L435.00,290.70 L435.50,292.34 L436.00,292.94 L436.50,290.24 L437.00,291.61 L437.50,293.97 L438.00,297.03 L438.50,298.80 L439.00,301.32 L439.50,304.50 L440.00,305.93 L440.50,307.38 L441.00,308.99 L441.50,311.51 L442.00,313.69 L442.50,315.96 L443.00,318.30 L443.50,317.42 L444.00,317.45 L444.50,319.26 L444.50,342.16 L444.00,343.64 L443.50,352.23 L443.00,348.99 L442.50,346.28 L442.00,346.20 L441.50,348.54 L441.00,341.29 L440.50,350.79 L440.00,340.67 L439.50,345.05 L439.00,332.09 L438.50,330.21 L438.00,327.70 L437.50,325.42 L437.00,323.19 L436.50,321.30 L436.00,323.03 L435.50,326.04 L435.00,320.74 L434.50,319.44 L434.00,316.89 L433.50,315.63 L433.00,313.13 L432.50,311.47 L432.00,308.72 L431.50,307.42 L431.00,304.85 L430.50,303.31 L430.00,302.38 L429.50,302.98 L429.00,310.74 L428.50,300.25 L428.00,307.89 L427.50,294.00 L427.00,293.09 L426.50,289.36 L426.00,296.34 L425.50,283.54 L425.00,280.77 L424.50,285.42 L424.00,292.25 L423.50,280.59 L423.00,279.56 L422.50,278.38 L422.00,276.13 L421.50,273.84 L421.00,271.29 L420.50,270.07 L420.00,268.46 L419.50,266.07 L419.00,263.90 L418.50,268.73 L418.00,259.88 L417.50,263.91 L417.00,256.22 L416.50,254.63 L416.00,253.04 L415.50,259.39 L415.00,249.67 L414.50,248.11 L414.00,247.74 L413.50,248.33 L413.00,248.59 L412.50,248.88 L412.00,247.33 L411.50,246.26 L411.00,244.27 L410.50,243.01 L410.00,241.85 L409.50,240.60 L409.00,239.14 L408.50,244.43 L408.00,238.95 L407.50,241.98 L407.00,234.00 L406.50,232.62 L406.00,232.70 L405.50,232.78 L405.00,239.53 L404.50,231.44 L404.00,231.55 L403.50,229.54 L403.00,228.33 L402.50,225.96 L402.00,225.18 L401.50,224.12 L401.00,223.51 L400.50,222.46 L400.00,221.40 L399.50,221.03 L399.00,222.22 L398.50,228.66 L398.00,224.61 L397.50,227.28 L397.00,220.93 L396.50,219.94 L396.00,218.24 L395.50,217.12 L395.00,215.08 L394.50,213.89 L394.00,212.04 L393.50,212.51 L393.00,213.09 L392.50,213.15 L392.00,212.50 L391.50,212.71 L391.00,211.39 L390.50,211.28 L390.00,210.87 L389.50,210.42 L389.00,211.92 L388.50,208.43 L388.00,207.70 L387.50,207.34 L387.00,206.68 L386.50,206.60 L386.00,206.77 L385.50,211.79 L385.00,209.21 L384.50,216.72 L384.00,209.15 L383.50,208.11 L383.00,207.10 L382.50,206.06 L382.00,204.17 L381.50,208.62 L381.00,202.29 L380.50,199.83 L380.00,200.45 L379.50,200.75 L379.00,203.12 L378.50,203.75 L378.00,203.12 L377.50,202.40 L377.00,200.83 L376.50,199.13 L376.00,205.77 L375.50,199.13 L375.00,198.35 L374.50,197.98 L374.00,196.55 L373.50,198.70 L373.00,206.16 L372.50,203.95 L372.00,206.79 L371.50,202.96 L371.00,208.56 L370.50,201.88 L370.00,201.60 L369.50,201.28 L369.00,200.86 L368.50,199.41 L368.00,199.33 L367.50,201.34 L367.00,205.53 L366.50,204.53 L366.00,207.80 L365.50,204.69 L365.00,203.77 L364.50,205.87 L364.00,202.17 L363.50,200.72 L363.00,200.05 L362.50,199.75 L362.00,199.37 L361.50,198.48 L361.00,204.72 L360.50,206.12 L360.00,206.11 L359.50,205.40 L359.00,205.08 L358.50,205.77 L358.00,204.63 L357.50,203.85 L357.00,203.60 L356.50,203.60 L356.00,203.56 L355.50,203.18 L355.00,206.08 L354.50,203.72 L354.00,205.32 L353.50,204.94 L353.00,206.41 L352.50,214.81 L352.00,212.54 L351.50,214.79 L351.00,216.56 L350.50,218.42 L350.00,220.41 L349.50,220.07 L349.00,219.50 L348.50,219.88 L348.00,220.82 L347.50,221.49 L347.00,225.85 L346.50,222.79 L346.00,229.33 L345.50,225.27 L345.00,225.63 L344.50,226.56 L344.00,225.83 L343.50,226.57 L343.00,226.89 L342.50,228.06 L342.00,228.35 L341.50,235.14 L341.00,233.26 L340.50,229.84 L340.00,229.62 L339.50,230.43 L339.00,232.50 L338.50,237.17 L338.00,235.83 L337.50,240.53 L337.00,238.09 L336.50,249.86 L336.00,245.81 L335.50,248.16 L335.00,249.24 L334.50,260.01 L334.00,250.74 L333.50,258.22 L333.00,253.66 L332.50,255.37 L332.00,263.29 L331.50,256.81 L331.00,258.06 L330.50,259.83 L330.00,261.19 L329.50,262.33 L329.00,272.70 L328.50,277.71 L328.00,270.05 L327.50,272.61 L327.00,274.29 L326.50,275.05 L326.00,276.87 L325.50,278.42 L325.00,283.48 L324.50,280.19 L324.00,291.91 L323.50,283.24 L323.00,288.70 L322.50,302.59 L322.00,291.96 L321.50,293.89 L321.00,295.65 L320.50,296.81 L320.00,297.76 L319.50,300.32 L319.00,302.14 L318.50,304.09 L318.00,305.10 L317.50,313.45 L317.00,308.41 L316.50,310.83 L316.00,311.27 L315.50,315.19 L315.00,319.60 L314.50,324.48 L314.00,326.19 L313.50,328.52 L313.00,330.49 L312.50,336.60 L312.00,329.27 L311.50,328.92 L311.00,329.81 L310.50,330.12 L310.00,329.80Z" fill="#8c564b" stroke="#8c564b" stroke-width="0.5" stroke-linejoin="round"/>
<path d="M591.00,303.74 L591.50,306.14 L592.00,292.82 L592.50,311.98 L593.00,308.45 L593.50,299.33 L594.00,295.54 L594.50,295.35 L595.00,294.86 L595.50,294.59 L596.00,279.96 L596.50,293.25 L597.00,292.00 L597.50,292.15 L598.00,291.02 L598.50,288.73 L599.00,285.32 L599.50,280.33 L600.00,271.64 L600.50,277.34 L601.00,275.73 L601.50,273.25 L602.00,274.92 L602.50,258.87 L603.00,274.12 L603.50,272.72 L604.00,267.59 L604.50,270.38 L605.00,267.13 L605.50,263.59 L606.00,249.09 L606.50,261.29 L607.00,260.99 L607.50,252.04 L608.00,261.04 L608.50,261.46 L609.00,261.61 L609.50,257.66 L610.00,261.49 L610.50,252.14 L611.00,257.17 L611.50,253.46 L612.00,253.28 L612.50,253.36 L613.00,253.72 L613.50,253.83 L614.00,245.10 L614.50,253.05 L615.00,253.23 L615.50,252.63 L616.00,252.39 L616.50,253.24 L617.00,252.44 L617.50,253.15 L618.00,252.27 L618.50,250.47 L619.00,248.35 L619.50,245.91 L620.00,246.67 L620.50,245.66 L621.00,246.41 L621.50,245.33 L622.00,245.29 L622.50,244.61 L623.00,245.64 L623.50,240.12 L624.00,241.97 L624.50,242.34 L625.00,241.04 L625.50,240.92 L626.00,241.13 L626.50,241.77 L627.00,240.51 L627.50,240.45 L628.00,240.94 L628.50,241.11 L629.00,240.67 L629.50,240.80 L630.00,239.22 L630.50,236.20 L631.00,234.87 L631.50,235.28 L632.00,236.77 L632.50,233.03 L633.00,238.40 L633.50,232.67 L634.00,240.01 L634.50,240.08 L635.00,241.15 L635.50,242.23 L636.00,243.55 L636.50,243.04 L637.00,243.25 L637.50,244.92 L638.00,244.92 L638.50,246.55 L639.00,245.57 L639.50,240.33 L640.00,242.35 L640.50,240.85 L641.00,243.59 L641.50,239.14 L642.00,245.63 L642.50,246.09 L643.00,247.48 L643.50,248.64 L644.00,247.95 L644.50,244.01 L645.00,238.51 L645.50,239.35 L646.00,242.49 L646.50,243.46 L647.00,245.96 L647.50,246.76 L648.00,247.16 L648.50,248.17 L649.00,249.50 L649.50,251.56 L650.00,250.01 L650.50,247.47 L651.00,246.96 L651.50,245.84 L652.00,247.08 L652.50,248.92 L653.00,249.76 L653.50,250.10 L654.00,251.89 L654.50,246.50 L655.00,253.29 L655.50,254.44 L656.00,246.08 L656.50,251.83 L657.00,248.53 L657.50,247.06 L658.00,242.76 L658.50,250.29 L659.00,250.68 L659.50,251.28 L660.00,251.26 L660.50,245.93 L661.00,253.14 L661.50,255.14 L662.00,255.13 L662.50,251.28 L663.00,256.35 L663.50,256.23 L664.00,257.97 L664.50,258.72 L665.00,260.04 L665.50,260.70 L666.00,259.97 L666.50,255.92 L667.00,256.43 L667.50,257.42 L668.00,259.41 L668.50,260.92 L669.00,262.56 L669.50,258.52 L670.00,254.36 L670.50,266.51 L671.00,268.41 L671.50,268.57 L672.00,269.28 L672.50,267.12 L673.00,266.49 L673.50,267.59 L674.00,260.58 L674.50,269.99 L675.00,271.13 L675.50,272.76 L676.00,273.39 L676.50,274.55 L677.00,271.90 L677.50,276.48 L678.00,278.57 L678.50,279.31 L679.00,282.21 L679.50,284.05 L680.00,284.38 L680.50,282.90 L681.00,286.39 L681.50,281.24 L682.00,285.48 L682.50,287.71 L683.00,289.81 L683.50,292.67 L684.00,294.54 L684.50,296.89 L685.00,298.94 L685.50,302.04 L685.50,342.07 L685.00,330.22 L684.50,327.66 L684.00,324.79 L683.50,321.80 L683.00,327.69 L682.50,327.87 L682.00,315.76 L681.50,314.95 L681.00,316.02 L680.50,316.23 L680.00,316.41 L679.50,321.28 L679.00,312.02 L678.50,309.67 L678.00,314.35 L677.50,310.76 L677.00,303.63 L676.50,301.59 L676.00,298.72 L675.50,298.59 L675.00,297.55 L674.50,296.62 L674.00,294.52 L673.50,293.03 L673.00,291.12 L672.50,292.49 L672.00,293.59 L671.50,292.54 L671.00,290.39 L670.50,289.06 L670.00,287.50 L669.50,285.17 L669.00,283.34 L668.50,283.42 L668.00,281.35 L667.50,286.73 L667.00,277.47 L666.50,277.42 L666.00,280.47 L665.50,281.76 L665.00,279.73 L664.50,279.47 L664.00,281.32 L663.50,276.85 L663.00,275.77 L662.50,275.41 L662.00,274.86 L661.50,272.92 L661.00,272.36 L660.50,272.41 L660.00,270.65 L659.50,269.77 L659.00,269.39 L658.50,267.94 L658.00,266.64 L657.50,265.31 L657.00,266.99 L656.50,269.93 L656.00,277.69 L655.50,278.08 L655.00,275.75 L654.50,270.92 L654.00,270.78 L653.50,268.31 L653.00,267.93 L652.50,266.60 L652.00,266.14 L651.50,265.31 L651.00,265.40 L650.50,267.80 L650.00,268.64 L649.50,268.58 L649.00,267.43 L648.50,265.88 L648.00,270.45 L647.50,266.97 L647.00,261.88 L646.50,265.11 L646.00,260.41 L645.50,259.70 L645.00,258.15 L644.50,261.18 L644.00,265.16 L643.50,266.23 L643.00,268.82 L642.50,264.42 L642.00,262.88 L641.50,262.21 L641.00,260.96 L640.50,259.52 L640.00,258.20 L639.50,257.55 L639.00,261.87 L638.50,264.04 L638.00,263.39 L637.50,265.40 L637.00,265.41 L636.50,260.71 L636.00,260.18 L635.50,259.47 L635.00,261.13 L634.50,257.51 L634.00,256.33 L633.50,256.76 L633.00,256.24 L632.50,254.72 L632.00,253.46 L631.50,253.99 L631.00,251.86 L630.50,252.82 L630.00,254.28 L629.50,265.31 L629.00,260.14 L628.50,265.57 L628.00,260.20 L627.50,259.48 L627.00,260.70 L626.50,261.16 L626.00,260.47 L625.50,261.02 L625.00,260.47 L624.50,268.48 L624.00,261.62 L623.50,267.63 L623.00,268.43 L622.50,268.51 L622.00,268.15 L621.50,268.90 L621.00,273.31 L620.50,267.89 L620.00,267.74 L619.50,267.47 L619.00,269.84 L618.50,272.36 L618.00,273.89 L617.50,274.90 L617.00,275.86 L616.50,284.39 L616.00,275.15 L615.50,274.26 L615.00,283.20 L614.50,274.92 L614.00,275.51 L613.50,274.84 L613.00,274.84 L612.50,274.70 L612.00,275.97 L611.50,278.11 L611.00,279.55 L610.50,292.42 L610.00,283.17 L609.50,284.21 L609.00,283.79 L608.50,284.36 L608.00,285.16 L607.50,285.69 L607.00,287.58 L606.50,289.44 L606.00,290.66 L605.50,293.10 L605.00,297.69 L604.50,302.27 L604.00,303.17 L603.50,306.32 L603.00,318.76 L602.50,306.77 L602.00,313.27 L601.50,309.39 L601.00,310.01 L600.50,312.00 L600.00,312.24 L599.50,314.81 L599.00,324.20 L598.50,324.55 L598.00,326.69 L597.50,327.20 L597.00,328.48 L596.50,334.68 L596.00,330.19 L595.50,331.65 L595.00,333.35 L594.50,335.50 L594.00,337.85 L593.50,340.83 L593.00,345.71 L592.50,350.11 L592.00,368.00 L591.50,343.63 L591.00,337.90Z" fill="#8c564b" stroke="#8c564b" stroke-width="0.5" stroke-linejoin="round"/>
<path d="M445.0,346.0 L591.0,336.4" stroke="#8c564b" stroke-width="0.8" fill="none"/>
<path d="M581.00,297.20 L581.50,286.37 L582.00,292.26 L582.50,287.97 L583.00,285.65 L583.50,285.13 L584.00,284.66 L584.50,283.37 L585.00,281.67 L585.50,280.38 L586.00,278.51 L586.50,272.62 L587.00,247.11 L587.50,262.66 L588.00,263.55 L588.50,244.45 L589.00,255.67 L589.50,259.99 L590.00,249.57 L590.50,257.54 L591.00,241.20 L591.50,244.19 L592.00,255.66 L592.50,255.20 L593.00,242.55 L593.50,247.24 L594.00,244.56 L594.50,243.90 L595.00,237.84 L595.50,243.79 L596.00,235.88 L596.50,242.16 L597.00,242.14 L597.50,241.60 L598.00,229.84 L598.50,237.72 L599.00,234.34 L599.50,234.62 L600.00,232.01 L600.50,228.83 L601.00,231.32 L601.50,226.11 L602.00,224.98 L602.50,230.98 L603.00,230.60 L603.50,230.37 L604.00,230.45 L604.50,222.24 L605.00,222.01 L605.50,221.19 L606.00,219.48 L606.50,219.14 L607.00,219.16 L607.50,218.98 L608.00,218.81 L608.50,218.50 L609.00,218.06 L609.50,217.47 L610.00,215.39 L610.50,211.48 L611.00,211.90 L611.50,210.87 L612.00,210.37 L612.50,210.63 L613.00,204.88 L613.50,210.06 L614.00,210.59 L614.50,210.18 L615.00,205.97 L615.50,208.85 L616.00,208.96 L616.50,208.24 L617.00,207.43 L617.50,206.64 L618.00,206.00 L618.50,206.42 L619.00,199.93 L619.50,202.88 L620.00,200.82 L620.50,199.82 L621.00,197.10 L621.50,198.53 L622.00,191.85 L622.50,190.67 L623.00,196.75 L623.50,195.49 L624.00,194.92 L624.50,194.24 L625.00,193.70 L625.50,194.64 L626.00,192.28 L626.50,190.13 L627.00,188.61 L627.50,183.56 L628.00,186.98 L628.50,187.42 L629.00,186.10 L629.50,186.09 L630.00,187.17 L630.50,186.86 L631.00,185.74 L631.50,186.99 L632.00,186.92 L632.50,186.90 L633.00,186.02 L633.50,185.91 L634.00,183.41 L634.50,181.81 L635.00,181.10 L635.50,180.74 L636.00,180.73 L636.50,180.45 L637.00,178.11 L637.50,182.12 L638.00,181.42 L638.50,181.49 L639.00,180.36 L639.50,181.48 L640.00,179.62 L640.50,178.14 L641.00,175.70 L641.50,171.71 L642.00,170.76 L642.50,175.30 L643.00,175.31 L643.50,175.02 L644.00,174.65 L644.50,174.41 L645.00,173.22 L645.50,171.26 L646.00,174.06 L646.50,173.98 L647.00,174.70 L647.50,174.84 L648.00,175.16 L648.50,173.90 L649.00,175.58 L649.50,176.56 L650.00,175.52 L650.50,173.95 L651.00,173.38 L651.50,173.76 L652.00,174.04 L652.50,175.24 L653.00,174.47 L653.50,174.76 L654.00,174.66 L654.50,175.52 L655.00,175.56 L655.50,172.00 L656.00,169.10 L656.50,170.86 L657.00,171.26 L657.50,167.58 L658.00,171.36 L658.50,170.94 L659.00,170.79 L659.50,171.49 L660.00,171.69 L660.50,172.14 L661.00,172.46 L661.50,171.12 L662.00,172.95 L662.50,172.42 L663.00,172.20 L663.50,170.53 L664.00,172.30 L664.50,173.00 L665.00,172.95 L665.50,171.56 L666.00,173.41 L666.50,168.74 L667.00,158.00 L667.50,173.62 L668.00,173.84 L668.50,174.36 L669.00,174.69 L669.50,174.93 L670.00,173.89 L670.50,171.42 L671.00,170.66 L671.50,167.97 L672.00,170.08 L672.50,170.18 L673.00,169.67 L673.50,169.37 L674.00,169.06 L674.50,169.47 L675.00,169.08 L675.50,169.52 L676.00,168.99 L676.50,168.21 L677.00,168.36 L677.50,167.48 L678.00,165.02 L678.50,168.94 L679.00,167.32 L679.50,164.17 L680.00,162.79 L680.50,161.94 L681.00,163.33 L681.50,164.63 L682.00,163.75 L682.50,163.36 L683.00,163.18 L683.50,164.03 L684.00,163.14 L684.50,165.49 L685.00,160.83 L685.50,165.67 L686.00,162.02 L686.50,162.35 L687.00,165.88 L687.50,166.09 L688.00,163.19 L688.50,162.96 L689.00,159.89 L689.50,163.04 L690.00,164.07 L690.50,163.71 L691.00,163.73 L691.50,164.63 L692.00,164.70 L692.50,163.32 L693.00,162.95 L693.50,166.08 L694.00,166.31 L694.50,166.83 L695.00,167.24 L695.50,167.60 L696.00,165.42 L696.50,162.85 L697.00,163.43 L697.50,163.33 L698.00,163.58 L698.50,163.01 L699.00,164.49 L699.50,165.54 L700.00,165.73 L700.50,162.01 L701.00,166.24 L701.50,166.18 L702.00,166.26 L702.50,167.80 L703.00,167.44 L703.50,167.49 L704.00,167.42 L704.50,167.80 L705.00,167.25 L705.50,166.07 L706.00,164.85 L706.50,164.89 L707.00,165.36 L707.50,163.84 L708.00,165.81 L708.50,166.50 L709.00,166.82 L709.50,168.15 L710.00,168.69 L710.50,169.60 L711.00,170.00 L711.50,169.52 L712.00,168.82 L712.50,168.72 L713.00,167.89 L713.50,167.87 L714.00,163.45 L714.50,169.40 L715.00,170.09 L715.50,170.94 L716.00,171.56 L716.50,172.42 L717.00,172.56 L717.50,173.35 L718.00,174.23 L718.50,170.61 L719.00,174.88 L719.50,175.59 L720.00,176.00 L720.50,176.75 L721.00,175.43 L721.50,171.92 L722.00,173.06 L722.50,172.60 L723.00,174.25 L723.50,174.46 L724.00,175.53 L724.50,175.80 L725.00,176.59 L725.50,176.62 L726.00,176.52 L726.50,174.40 L727.00,174.20 L727.50,176.53 L728.00,176.86 L728.50,178.07 L729.00,179.00 L729.50,178.86 L730.00,179.35 L730.50,180.17 L731.00,181.77 L731.50,180.76 L732.00,178.18 L732.50,182.91 L733.00,183.66 L733.50,185.43 L734.00,185.82 L734.50,185.59 L735.00,185.13 L735.50,184.82 L736.00,184.63 L736.50,186.10 L737.00,183.67 L737.50,188.27 L738.00,189.43 L738.50,189.92 L739.00,191.54 L739.50,192.94 L740.00,194.26 L740.50,193.61 L741.00,193.28 L741.50,193.19 L742.00,191.51 L742.50,195.22 L743.00,196.91 L743.50,197.98 L744.00,198.82 L744.50,199.72 L745.00,196.45 L745.50,197.51 L746.00,204.21 L746.50,205.19 L747.00,207.01 L747.50,205.72 L748.00,204.64 L748.50,204.10 L749.00,205.51 L749.50,200.17 L750.00,207.21 L750.50,207.89 L751.00,208.94 L751.50,209.78 L752.00,211.65 L752.50,213.13 L753.00,214.09 L753.50,215.08 L754.00,211.40 L754.50,215.82 L755.00,219.57 L755.50,220.07 L756.00,222.44 L756.50,219.57 L757.00,222.25 L757.50,221.59 L758.00,222.22 L758.50,223.68 L759.00,224.88 L759.50,225.46 L760.00,225.35 L760.50,229.12 L761.00,230.90 L761.50,232.17 L762.00,233.74 L762.50,234.82 L763.00,236.12 L763.50,230.76 L764.00,237.80 L764.50,238.11 L765.00,238.77 L765.50,240.36 L766.00,236.00 L766.50,245.08 L767.00,247.46 L767.50,248.86 L768.00,251.39 L768.50,253.09 L769.00,252.06 L769.50,249.72 L770.00,259.03 L770.50,257.05 L771.00,259.37 L771.50,260.57 L772.00,262.34 L772.50,254.35 L773.00,266.25 L773.50,268.42 L774.00,263.45 L774.50,273.93 L775.00,264.51 L775.50,278.75 L776.00,281.37 L776.50,283.52 L777.00,285.67 L777.50,286.15 L778.00,286.83 L778.50,280.05 L779.00,287.98 L779.50,290.09 L780.00,292.63 L780.50,294.59 L781.00,290.73 L781.50,299.33 L782.00,302.19 L782.50,305.67 L783.00,308.52 L783.50,311.40 L784.00,310.71 L784.50,303.23 L785.00,311.48 L785.00,339.57 L784.50,338.68 L784.00,349.89 L783.50,337.33 L783.00,332.96 L782.50,338.43 L782.00,324.79 L781.50,319.91 L781.00,316.67 L780.50,313.95 L780.00,312.60 L779.50,310.35 L779.00,311.42 L778.50,307.69 L778.00,307.85 L777.50,313.11 L777.00,307.39 L776.50,316.64 L776.00,304.23 L775.50,302.30 L775.00,310.82 L774.50,298.62 L774.00,305.11 L773.50,293.09 L773.00,290.11 L772.50,286.67 L772.00,284.05 L771.50,281.93 L771.00,279.91 L770.50,278.04 L770.00,281.09 L769.50,278.65 L769.00,276.84 L768.50,274.75 L768.00,273.10 L767.50,271.05 L767.00,268.23 L766.50,265.16 L766.00,263.13 L765.50,260.98 L765.00,258.62 L764.50,257.06 L764.00,258.87 L763.50,257.23 L763.00,254.60 L762.50,252.53 L762.00,250.79 L761.50,249.46 L761.00,248.59 L760.50,246.75 L760.00,244.80 L759.50,242.82 L759.00,241.09 L758.50,239.48 L758.00,238.18 L757.50,237.39 L757.00,238.17 L756.50,239.30 L756.00,239.65 L755.50,238.46 L755.00,236.98 L754.50,239.08 L754.00,241.80 L753.50,232.66 L753.00,231.17 L752.50,229.67 L752.00,228.96 L751.50,227.66 L751.00,226.02 L750.50,224.10 L750.00,223.19 L749.50,221.55 L749.00,220.58 L748.50,219.13 L748.00,219.57 L747.50,220.91 L747.00,221.63 L746.50,220.25 L746.00,226.47 L745.50,218.45 L745.00,217.86 L744.50,216.66 L744.00,214.96 L743.50,214.28 L743.00,212.74 L742.50,213.04 L742.00,212.55 L741.50,208.56 L741.00,208.40 L740.50,207.98 L740.00,208.25 L739.50,214.17 L739.00,206.79 L738.50,205.23 L738.00,202.94 L737.50,202.26 L737.00,201.08 L736.50,200.15 L736.00,199.26 L735.50,198.74 L735.00,199.73 L734.50,198.46 L734.00,197.62 L733.50,196.65 L733.00,195.95 L732.50,194.54 L732.00,195.75 L731.50,193.18 L731.00,192.60 L730.50,195.28 L730.00,191.57 L729.50,190.85 L729.00,190.74 L728.50,189.87 L728.00,189.27 L727.50,188.08 L727.00,187.07 L726.50,186.93 L726.00,188.53 L725.50,189.11 L725.00,188.16 L724.50,187.08 L724.00,187.38 L723.50,186.54 L723.00,185.48 L722.50,185.26 L722.00,183.15 L721.50,182.51 L721.00,185.56 L720.50,188.08 L720.00,187.63 L719.50,186.69 L719.00,186.30 L718.50,188.99 L718.00,184.83 L717.50,184.76 L717.00,184.53 L716.50,183.82 L716.00,182.75 L715.50,182.48 L715.00,182.32 L714.50,181.45 L714.00,181.31 L713.50,180.33 L713.00,179.41 L712.50,180.11 L712.00,180.49 L711.50,184.43 L711.00,181.30 L710.50,180.42 L710.00,179.04 L709.50,178.22 L709.00,177.80 L708.50,176.62 L708.00,176.72 L707.50,175.94 L707.00,176.36 L706.50,174.72 L706.00,175.10 L705.50,175.21 L705.00,176.19 L704.50,176.66 L704.00,179.12 L703.50,176.35 L703.00,176.11 L702.50,176.54 L702.00,175.96 L701.50,175.70 L701.00,176.75 L700.50,174.13 L700.00,174.49 L699.50,173.48 L699.00,173.46 L698.50,173.61 L698.00,172.79 L697.50,173.15 L697.00,172.71 L696.50,172.44 L696.00,175.41 L695.50,176.33 L695.00,176.42 L694.50,175.81 L694.00,176.17 L693.50,176.27 L693.00,176.38 L692.50,175.67 L692.00,175.10 L691.50,175.62 L691.00,175.27 L690.50,175.19 L690.00,175.62 L689.50,178.70 L689.00,175.28 L688.50,173.93 L688.00,174.51 L687.50,177.55 L687.00,178.51 L686.50,178.18 L686.00,178.39 L685.50,177.20 L685.00,177.98 L684.50,177.15 L684.00,177.71 L683.50,180.60 L683.00,176.24 L682.50,176.90 L682.00,176.42 L681.50,175.50 L681.00,175.99 L680.50,178.46 L680.00,175.02 L679.50,175.51 L679.00,179.06 L678.50,181.27 L678.00,180.60 L677.50,181.17 L677.00,181.18 L676.50,181.38 L676.00,181.72 L675.50,182.47 L675.00,182.03 L674.50,185.42 L674.00,182.46 L673.50,183.22 L673.00,184.24 L672.50,184.12 L672.00,183.86 L671.50,182.64 L671.00,184.06 L670.50,185.86 L670.00,186.71 L669.50,188.50 L669.00,188.02 L668.50,188.15 L668.00,188.23 L667.50,187.41 L667.00,186.96 L666.50,186.88 L666.00,186.29 L665.50,185.76 L665.00,185.95 L664.50,185.19 L664.00,186.02 L663.50,183.75 L663.00,187.18 L662.50,185.86 L662.00,189.47 L661.50,186.21 L661.00,191.65 L660.50,185.09 L660.00,184.50 L659.50,184.02 L659.00,183.54 L658.50,183.44 L658.00,182.23 L657.50,182.44 L657.00,182.89 L656.50,182.76 L656.00,182.78 L655.50,190.94 L655.00,188.57 L654.50,189.82 L654.00,186.99 L653.50,187.65 L653.00,187.65 L652.50,187.74 L652.00,186.92 L651.50,190.22 L651.00,186.06 L650.50,186.26 L650.00,189.10 L649.50,188.97 L649.00,187.90 L648.50,189.32 L648.00,187.43 L647.50,192.23 L647.00,187.97 L646.50,190.77 L646.00,185.59 L645.50,185.25 L645.00,190.78 L644.50,186.31 L644.00,186.95 L643.50,188.03 L643.00,187.19 L642.50,187.87 L642.00,187.69 L641.50,188.18 L641.00,193.67 L640.50,190.39 L640.00,192.39 L639.50,192.96 L639.00,192.60 L638.50,197.85 L638.00,193.04 L637.50,196.13 L637.00,195.36 L636.50,193.24 L636.00,193.41 L635.50,193.17 L635.00,192.89 L634.50,193.63 L634.00,195.71 L633.50,198.55 L633.00,198.03 L632.50,198.98 L632.00,199.22 L631.50,199.41 L631.00,200.51 L630.50,200.46 L630.00,202.31 L629.50,200.22 L629.00,200.99 L628.50,200.65 L628.00,201.19 L627.50,201.15 L627.00,201.95 L626.50,203.58 L626.00,206.17 L625.50,208.35 L625.00,208.50 L624.50,209.13 L624.00,209.79 L623.50,210.38 L623.00,211.49 L622.50,213.81 L622.00,213.78 L621.50,214.10 L621.00,216.31 L620.50,215.95 L620.00,216.73 L619.50,221.22 L619.00,221.88 L618.50,222.92 L618.00,225.78 L617.50,223.10 L617.00,223.58 L616.50,224.26 L616.00,225.55 L615.50,225.28 L615.00,225.76 L614.50,225.86 L614.00,226.63 L613.50,226.92 L613.00,229.58 L612.50,227.20 L612.00,228.10 L611.50,228.29 L611.00,228.96 L610.50,233.75 L610.00,233.01 L609.50,235.12 L609.00,235.73 L608.50,236.45 L608.00,236.26 L607.50,242.00 L607.00,239.17 L606.50,239.93 L606.00,240.21 L605.50,240.83 L605.00,251.16 L604.50,250.35 L604.00,251.28 L603.50,252.61 L603.00,253.16 L602.50,258.82 L602.00,254.44 L601.50,254.61 L601.00,255.63 L600.50,254.86 L600.00,255.24 L599.50,258.36 L599.00,263.33 L598.50,278.70 L598.00,268.39 L597.50,278.85 L597.00,274.39 L596.50,272.11 L596.00,273.96 L595.50,274.80 L595.00,275.44 L594.50,276.49 L594.00,277.47 L593.50,281.52 L593.00,288.63 L592.50,290.79 L592.00,292.24 L591.50,294.96 L591.00,297.73 L590.50,305.38 L590.00,301.95 L589.50,302.47 L589.00,304.10 L588.50,319.87 L588.00,308.27 L587.50,311.56 L587.00,314.98 L586.50,325.67 L586.00,344.52 L585.50,330.31 L585.00,352.00 L584.50,338.60 L584.00,337.78 L583.50,350.00 L583.00,358.95 L582.50,343.09 L582.00,354.66 L581.50,330.20 L581.00,325.57Z" fill="#e377c2" stroke="#e377c2" stroke-width="0.5" stroke-linejoin="round"/>
</g>
<rect x="125.5" y="60.5" width="775.0" height="385.0" fill="none" stroke="#000" stroke-width="1.1"/>
<line x1="167.5" y1="445.5" x2="167.5" y2="450.4" class="k"/>
<text x="166.7" y="466" text-anchor="middle" class="t" textLength="52.6" lengthAdjust="spacingAndGlyphs">260000</text>
<line x1="330.5" y1="445.5" x2="330.5" y2="450.4" class="k"/>
<text x="329.7" y="466" text-anchor="middle" class="t" textLength="52.6" lengthAdjust="spacingAndGlyphs">280000</text>
<line x1="493.5" y1="445.5" x2="493.5" y2="450.4" class="k"/>
<text x="492.7" y="466" text-anchor="middle" class="t" textLength="52.6" lengthAdjust="spacingAndGlyphs">300000</text>
<line x1="656.5" y1="445.5" x2="656.5" y2="450.4" class="k"/>
<text x="655.7" y="466" text-anchor="middle" class="t" textLength="52.6" lengthAdjust="spacingAndGlyphs">320000</text>
<line x1="819.5" y1="445.5" x2="819.5" y2="450.4" class="k"/>
<text x="818.7" y="466" text-anchor="middle" class="t" textLength="52.6" lengthAdjust="spacingAndGlyphs">340000</text>
<line x1="120.6" y1="96.5" x2="125.5" y2="96.5" class="k"/>
<text x="115" y="101.50" text-anchor="end" class="t" textLength="16.8" lengthAdjust="spacingAndGlyphs">50</text>
<line x1="120.6" y1="169.5" x2="125.5" y2="169.5" class="k"/>
<text x="115" y="174.50" text-anchor="end" class="t" textLength="16.8" lengthAdjust="spacingAndGlyphs">40</text>
<line x1="120.6" y1="242.5" x2="125.5" y2="242.5" class="k"/>
<text x="115" y="247.50" text-anchor="end" class="t" textLength="16.8" lengthAdjust="spacingAndGlyphs">30</text>
<line x1="120.6" y1="314.5" x2="125.5" y2="314.5" class="k"/>
<text x="115" y="319.50" text-anchor="end" class="t" textLength="16.8" lengthAdjust="spacingAndGlyphs">20</text>
<line x1="120.6" y1="387.5" x2="125.5" y2="387.5" class="k"/>
<text x="115" y="392.50" text-anchor="end" class="t" textLength="16.8" lengthAdjust="spacingAndGlyphs">10</text>
<text x="512.5" y="51.6" text-anchor="middle" style="font-size:17.6px" textLength="172" lengthAdjust="spacingAndGlyphs">Z3R ant_0 GPS L2(E)</text>
<text x="512" y="485.6" text-anchor="middle" class="t" textLength="57.5" lengthAdjust="spacingAndGlyphs">Time (s)</text>
<text transform="translate(89.6,252.5) rotate(-90)" text-anchor="middle" class="t" textLength="73" lengthAdjust="spacingAndGlyphs">CNo dB Hz</text>
<rect x="922.5" y="74.5" width="66.5" height="151" rx="2.5" ry="2.5" fill="#fff" fill-opacity="0.8" stroke="#cccccc" stroke-width="1.1"/>
<line x1="927" y1="86.30" x2="956" y2="86.30" stroke="#1f77b4" stroke-width="0.7"/>
<text x="965.8" y="90.70" class="t" textLength="9.0" lengthAdjust="spacingAndGlyphs">2</text>
<line x1="927" y1="107.15" x2="956" y2="107.15" stroke="#ff7f0e" stroke-width="0.7"/>
<text x="966.6" y="111.55" class="t" textLength="17.6" lengthAdjust="spacingAndGlyphs">13</text>
<line x1="927" y1="128.00" x2="956" y2="128.00" stroke="#2ca02c" stroke-width="0.7"/>
<text x="966.6" y="132.40" class="t" textLength="17.6" lengthAdjust="spacingAndGlyphs">16</text>
<line x1="927" y1="148.85" x2="956" y2="148.85" stroke="#d62728" stroke-width="0.7"/>
<text x="966.6" y="153.25" class="t" textLength="17.6" lengthAdjust="spacingAndGlyphs">19</text>
<line x1="927" y1="169.70" x2="956" y2="169.70" stroke="#9467bd" stroke-width="0.7"/>
<text x="966.6" y="174.10" class="t" textLength="17.6" lengthAdjust="spacingAndGlyphs">20</text>
<line x1="927" y1="190.55" x2="956" y2="190.55" stroke="#8c564b" stroke-width="0.7"/>
<text x="966.6" y="194.95" class="t" textLength="17.6" lengthAdjust="spacingAndGlyphs">21</text>
<line x1="927" y1="211.40" x2="956" y2="211.40" stroke="#e377c2" stroke-width="0.7"/>
<text x="966.6" y="215.80" class="t" textLength="17.6" lengthAdjust="spacingAndGlyphs">22</text>
</svg>
</body></html>
